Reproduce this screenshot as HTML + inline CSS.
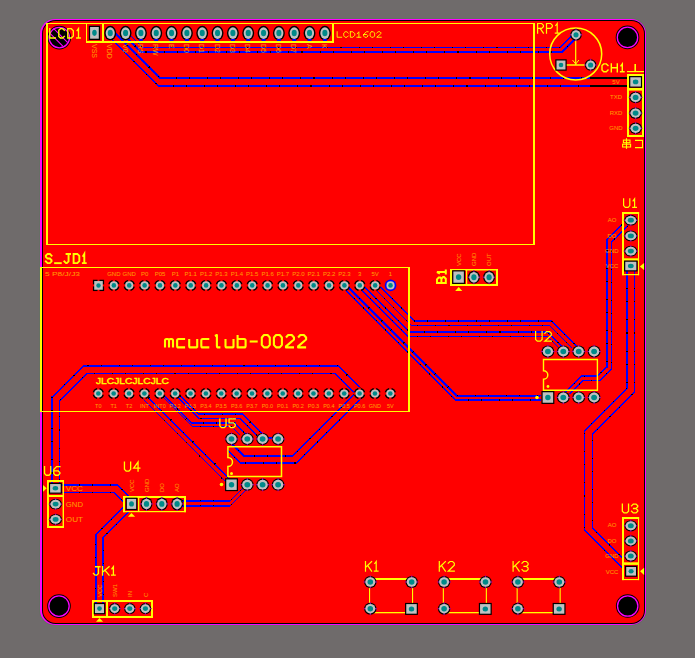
<!DOCTYPE html>
<html><head><meta charset="utf-8"><style>
html,body{margin:0;padding:0;background:#6f6b6b;}
svg{display:block;}
</style></head><body>
<svg width="695" height="658" viewBox="0 0 695 658">
<rect width="695" height="658" fill="#6f6b6b"/>
<rect x="39" y="18" width="608" height="608" rx="16" fill="#667064"/>
<rect x="40" y="19" width="606" height="606" rx="15" fill="#ff00ff"/>
<rect x="42" y="20" width="603" height="604" rx="13.5" fill="#000"/>
<rect x="43" y="21" width="601" height="602" rx="12.5" fill="#ff0000"/>
<line x1="114.0" y1="32.0" x2="160.0" y2="78.0" stroke="#0000ff" stroke-width="1.44" stroke-linecap="round" shape-rendering="crispEdges"/>
<line x1="160.0" y1="78.0" x2="590.0" y2="78.0" stroke="#0000ff" stroke-width="2.00" stroke-linecap="round" shape-rendering="crispEdges"/>
<line x1="111.5" y1="39.0" x2="158.5" y2="86.0" stroke="#0000ff" stroke-width="1.44" stroke-linecap="round" shape-rendering="crispEdges"/>
<line x1="158.5" y1="86.0" x2="590.0" y2="86.0" stroke="#0000ff" stroke-width="2.00" stroke-linecap="round" shape-rendering="crispEdges"/>
<line x1="128.0" y1="33.0" x2="142.5" y2="47.5" stroke="#0000ff" stroke-width="1.15" stroke-linecap="round" shape-rendering="crispEdges"/>
<line x1="142.5" y1="47.5" x2="560.0" y2="47.5" stroke="#0000ff" stroke-width="1.20" stroke-linecap="round" shape-rendering="crispEdges"/>
<line x1="560.0" y1="47.5" x2="572.0" y2="35.5" stroke="#0000ff" stroke-width="1.15" stroke-linecap="round" shape-rendering="crispEdges"/>
<line x1="122.0" y1="33.0" x2="141.0" y2="52.0" stroke="#0000ff" stroke-width="1.44" stroke-linecap="round" shape-rendering="crispEdges"/>
<line x1="141.0" y1="52.0" x2="562.0" y2="52.0" stroke="#0000ff" stroke-width="2.00" stroke-linecap="round" shape-rendering="crispEdges"/>
<line x1="562.0" y1="52.0" x2="575.0" y2="39.0" stroke="#0000ff" stroke-width="1.44" stroke-linecap="round" shape-rendering="crispEdges"/>
<line x1="379.0" y1="285.4" x2="414.6" y2="321.0" stroke="#0000ff" stroke-width="1.44" stroke-linecap="round" shape-rendering="crispEdges"/>
<line x1="414.6" y1="321.0" x2="551.3" y2="321.0" stroke="#0000ff" stroke-width="2.00" stroke-linecap="round" shape-rendering="crispEdges"/>
<line x1="551.3" y1="321.0" x2="577.0" y2="346.7" stroke="#0000ff" stroke-width="1.44" stroke-linecap="round" shape-rendering="crispEdges"/>
<line x1="371.3" y1="285.4" x2="411.2" y2="325.3" stroke="#0000ff" stroke-width="1.15" stroke-linecap="round" shape-rendering="crispEdges"/>
<line x1="411.2" y1="325.3" x2="549.2" y2="325.3" stroke="#0000ff" stroke-width="1.20" stroke-linecap="round" shape-rendering="crispEdges"/>
<line x1="549.2" y1="325.3" x2="572.0" y2="348.1" stroke="#0000ff" stroke-width="1.15" stroke-linecap="round" shape-rendering="crispEdges"/>
<line x1="362.8" y1="285.4" x2="409.4" y2="332.0" stroke="#0000ff" stroke-width="1.44" stroke-linecap="round" shape-rendering="crispEdges"/>
<line x1="409.4" y1="332.0" x2="547.6" y2="332.0" stroke="#0000ff" stroke-width="2.00" stroke-linecap="round" shape-rendering="crispEdges"/>
<line x1="547.6" y1="332.0" x2="561.0" y2="345.4" stroke="#0000ff" stroke-width="1.44" stroke-linecap="round" shape-rendering="crispEdges"/>
<line x1="357.0" y1="285.4" x2="407.8" y2="336.2" stroke="#0000ff" stroke-width="1.15" stroke-linecap="round" shape-rendering="crispEdges"/>
<line x1="407.8" y1="336.2" x2="547.2" y2="336.2" stroke="#0000ff" stroke-width="1.20" stroke-linecap="round" shape-rendering="crispEdges"/>
<line x1="547.2" y1="336.2" x2="558.0" y2="347.0" stroke="#0000ff" stroke-width="1.15" stroke-linecap="round" shape-rendering="crispEdges"/>
<line x1="346.4" y1="285.4" x2="456.6" y2="395.6" stroke="#0000ff" stroke-width="1.44" stroke-linecap="round" shape-rendering="crispEdges"/>
<line x1="456.6" y1="395.6" x2="540.0" y2="395.6" stroke="#0000ff" stroke-width="2.00" stroke-linecap="round" shape-rendering="crispEdges"/>
<line x1="341.0" y1="285.4" x2="455.6" y2="400.0" stroke="#0000ff" stroke-width="1.44" stroke-linecap="round" shape-rendering="crispEdges"/>
<line x1="455.6" y1="400.0" x2="540.0" y2="400.0" stroke="#0000ff" stroke-width="2.00" stroke-linecap="round" shape-rendering="crispEdges"/>
<line x1="360.1" y1="388.0" x2="337.7" y2="365.6" stroke="#0000ff" stroke-width="1.44" stroke-linecap="round" shape-rendering="crispEdges"/>
<line x1="337.7" y1="365.6" x2="83.6" y2="365.6" stroke="#0000ff" stroke-width="2.00" stroke-linecap="round" shape-rendering="crispEdges"/>
<line x1="83.6" y1="365.6" x2="52.0" y2="397.2" stroke="#0000ff" stroke-width="1.44" stroke-linecap="round" shape-rendering="crispEdges"/>
<line x1="52.0" y1="397.2" x2="52.0" y2="484.0" stroke="#0000ff" stroke-width="2.00" stroke-linecap="round" shape-rendering="crispEdges"/>
<line x1="354.8" y1="393.0" x2="335.5" y2="373.7" stroke="#0000ff" stroke-width="1.15" stroke-linecap="round" shape-rendering="crispEdges"/>
<line x1="335.5" y1="373.7" x2="86.5" y2="373.7" stroke="#0000ff" stroke-width="1.20" stroke-linecap="round" shape-rendering="crispEdges"/>
<line x1="86.5" y1="373.7" x2="59.5" y2="400.7" stroke="#0000ff" stroke-width="1.15" stroke-linecap="round" shape-rendering="crispEdges"/>
<line x1="59.5" y1="400.7" x2="59.5" y2="484.0" stroke="#0000ff" stroke-width="1.20" stroke-linecap="round" shape-rendering="crispEdges"/>
<line x1="354.5" y1="394.0" x2="292.8" y2="455.7" stroke="#0000ff" stroke-width="1.44" stroke-linecap="round" shape-rendering="crispEdges"/>
<line x1="292.8" y1="455.7" x2="243.7" y2="455.7" stroke="#0000ff" stroke-width="2.00" stroke-linecap="round" shape-rendering="crispEdges"/>
<line x1="243.7" y1="455.7" x2="232.0" y2="444.0" stroke="#0000ff" stroke-width="1.44" stroke-linecap="round" shape-rendering="crispEdges"/>
<line x1="362.0" y1="397.5" x2="296.5" y2="463.0" stroke="#0000ff" stroke-width="1.15" stroke-linecap="round" shape-rendering="crispEdges"/>
<line x1="296.5" y1="463.0" x2="240.7" y2="463.0" stroke="#0000ff" stroke-width="1.50" stroke-linecap="round" shape-rendering="crispEdges"/>
<line x1="240.7" y1="463.0" x2="227.8" y2="450.1" stroke="#0000ff" stroke-width="1.15" stroke-linecap="round" shape-rendering="crispEdges"/>
<line x1="142.3" y1="398.4" x2="228.0" y2="484.1" stroke="#0000ff" stroke-width="1.15" stroke-linecap="round" shape-rendering="crispEdges"/>
<line x1="148.2" y1="397.3" x2="233.0" y2="482.1" stroke="#0000ff" stroke-width="1.44" stroke-linecap="round" shape-rendering="crispEdges"/>
<line x1="164.4" y1="395.7" x2="191.6" y2="422.9" stroke="#0000ff" stroke-width="1.30" stroke-linecap="round" shape-rendering="crispEdges"/>
<line x1="191.6" y1="422.9" x2="234.8" y2="422.9" stroke="#0000ff" stroke-width="1.80" stroke-linecap="round" shape-rendering="crispEdges"/>
<line x1="234.8" y1="422.9" x2="246.0" y2="434.1" stroke="#0000ff" stroke-width="1.30" stroke-linecap="round" shape-rendering="crispEdges"/>
<line x1="162.8" y1="396.8" x2="192.5" y2="426.5" stroke="#0000ff" stroke-width="1.15" stroke-linecap="round" shape-rendering="crispEdges"/>
<line x1="192.5" y1="426.5" x2="231.5" y2="426.5" stroke="#0000ff" stroke-width="1.60" stroke-linecap="round" shape-rendering="crispEdges"/>
<line x1="231.5" y1="426.5" x2="240.0" y2="435.0" stroke="#0000ff" stroke-width="1.15" stroke-linecap="round" shape-rendering="crispEdges"/>
<line x1="180.1" y1="395.7" x2="198.7" y2="414.3" stroke="#0000ff" stroke-width="1.44" stroke-linecap="round" shape-rendering="crispEdges"/>
<line x1="198.7" y1="414.3" x2="242.4" y2="414.3" stroke="#0000ff" stroke-width="2.00" stroke-linecap="round" shape-rendering="crispEdges"/>
<line x1="242.4" y1="414.3" x2="261.0" y2="432.9" stroke="#0000ff" stroke-width="1.44" stroke-linecap="round" shape-rendering="crispEdges"/>
<line x1="177.9" y1="397.3" x2="199.0" y2="418.4" stroke="#0000ff" stroke-width="1.15" stroke-linecap="round" shape-rendering="crispEdges"/>
<line x1="199.0" y1="418.4" x2="240.1" y2="418.4" stroke="#0000ff" stroke-width="1.60" stroke-linecap="round" shape-rendering="crispEdges"/>
<line x1="240.1" y1="418.4" x2="257.0" y2="435.3" stroke="#0000ff" stroke-width="1.15" stroke-linecap="round" shape-rendering="crispEdges"/>
<line x1="263.0" y1="438.4" x2="278.4" y2="438.4" stroke="#0000ff" stroke-width="2.00" stroke-linecap="round" shape-rendering="crispEdges"/>
<line x1="61.0" y1="485.0" x2="117.5" y2="485.0" stroke="#0000ff" stroke-width="2.00" stroke-linecap="round" shape-rendering="crispEdges"/>
<line x1="117.5" y1="485.0" x2="128.5" y2="496.0" stroke="#0000ff" stroke-width="1.44" stroke-linecap="round" shape-rendering="crispEdges"/>
<line x1="61.0" y1="492.5" x2="114.1" y2="492.5" stroke="#0000ff" stroke-width="1.20" stroke-linecap="round" shape-rendering="crispEdges"/>
<line x1="114.1" y1="492.5" x2="124.5" y2="502.9" stroke="#0000ff" stroke-width="1.15" stroke-linecap="round" shape-rendering="crispEdges"/>
<line x1="124.5" y1="506.0" x2="95.8" y2="534.7" stroke="#0000ff" stroke-width="1.15" stroke-linecap="round" shape-rendering="crispEdges"/>
<line x1="95.8" y1="534.7" x2="95.8" y2="604.0" stroke="#0000ff" stroke-width="1.50" stroke-linecap="round" shape-rendering="crispEdges"/>
<line x1="129.5" y1="511.3" x2="103.2" y2="537.6" stroke="#0000ff" stroke-width="1.15" stroke-linecap="round" shape-rendering="crispEdges"/>
<line x1="103.2" y1="537.6" x2="103.2" y2="604.0" stroke="#0000ff" stroke-width="1.60" stroke-linecap="round" shape-rendering="crispEdges"/>
<line x1="182.0" y1="500.8" x2="230.2" y2="500.8" stroke="#0000ff" stroke-width="1.60" stroke-linecap="round" shape-rendering="crispEdges"/>
<line x1="230.2" y1="500.8" x2="243.0" y2="488.0" stroke="#0000ff" stroke-width="1.15" stroke-linecap="round" shape-rendering="crispEdges"/>
<line x1="182.0" y1="505.8" x2="230.2" y2="505.8" stroke="#0000ff" stroke-width="1.60" stroke-linecap="round" shape-rendering="crispEdges"/>
<line x1="230.2" y1="505.8" x2="247.0" y2="489.0" stroke="#0000ff" stroke-width="1.15" stroke-linecap="round" shape-rendering="crispEdges"/>
<line x1="622.0" y1="224.7" x2="607.0" y2="239.7" stroke="#0000ff" stroke-width="1.44" stroke-linecap="round" shape-rendering="crispEdges"/>
<line x1="607.0" y1="239.7" x2="607.0" y2="366.7" stroke="#0000ff" stroke-width="2.00" stroke-linecap="round" shape-rendering="crispEdges"/>
<line x1="607.0" y1="366.7" x2="597.3" y2="376.4" stroke="#0000ff" stroke-width="1.44" stroke-linecap="round" shape-rendering="crispEdges"/>
<line x1="597.3" y1="376.4" x2="581.5" y2="376.4" stroke="#0000ff" stroke-width="2.00" stroke-linecap="round" shape-rendering="crispEdges"/>
<line x1="581.5" y1="376.4" x2="563.5" y2="394.4" stroke="#0000ff" stroke-width="1.44" stroke-linecap="round" shape-rendering="crispEdges"/>
<line x1="627.8" y1="226.0" x2="611.6" y2="242.2" stroke="#0000ff" stroke-width="1.15" stroke-linecap="round" shape-rendering="crispEdges"/>
<line x1="611.6" y1="242.2" x2="611.6" y2="369.0" stroke="#0000ff" stroke-width="1.50" stroke-linecap="round" shape-rendering="crispEdges"/>
<line x1="611.6" y1="369.0" x2="599.9" y2="380.7" stroke="#0000ff" stroke-width="1.15" stroke-linecap="round" shape-rendering="crispEdges"/>
<line x1="599.9" y1="380.7" x2="583.0" y2="380.7" stroke="#0000ff" stroke-width="1.50" stroke-linecap="round" shape-rendering="crispEdges"/>
<line x1="583.0" y1="380.7" x2="570.0" y2="393.7" stroke="#0000ff" stroke-width="1.15" stroke-linecap="round" shape-rendering="crispEdges"/>
<line x1="627.0" y1="270.0" x2="627.0" y2="388.2" stroke="#0000ff" stroke-width="2.00" stroke-linecap="round" shape-rendering="crispEdges"/>
<line x1="627.0" y1="388.2" x2="584.7" y2="430.5" stroke="#0000ff" stroke-width="1.15" stroke-linecap="round" shape-rendering="crispEdges"/>
<line x1="584.7" y1="430.5" x2="584.7" y2="530.4" stroke="#0000ff" stroke-width="1.20" stroke-linecap="round" shape-rendering="crispEdges"/>
<line x1="584.7" y1="530.4" x2="622.8" y2="568.5" stroke="#0000ff" stroke-width="1.15" stroke-linecap="round" shape-rendering="crispEdges"/>
<line x1="634.4" y1="270.0" x2="634.4" y2="391.8" stroke="#0000ff" stroke-width="1.50" stroke-linecap="round" shape-rendering="crispEdges"/>
<line x1="634.4" y1="391.8" x2="592.5" y2="433.7" stroke="#0000ff" stroke-width="1.15" stroke-linecap="round" shape-rendering="crispEdges"/>
<line x1="592.5" y1="433.7" x2="592.5" y2="527.9" stroke="#0000ff" stroke-width="1.50" stroke-linecap="round" shape-rendering="crispEdges"/>
<line x1="592.5" y1="527.9" x2="622.8" y2="558.2" stroke="#0000ff" stroke-width="1.15" stroke-linecap="round" shape-rendering="crispEdges"/>
<path d="M114.0,32.0 L160.0,78.0 L590.0,78.0" fill="none" stroke="#000" stroke-width="1.60" stroke-dasharray="1.2 17 1 12" shape-rendering="crispEdges"/>
<path d="M111.5,39.0 L158.5,86.0 L590.0,86.0" fill="none" stroke="#000" stroke-width="1.60" stroke-dasharray="1.2 17 1 12" shape-rendering="crispEdges"/>
<path d="M128.0,33.0 L142.5,47.5 L560.0,47.5 L572.0,35.5" fill="none" stroke="#000" stroke-width="0.96" stroke-dasharray="1.2 17 1 12" shape-rendering="crispEdges"/>
<path d="M122.0,33.0 L141.0,52.0 L562.0,52.0 L575.0,39.0" fill="none" stroke="#000" stroke-width="1.60" stroke-dasharray="1.2 17 1 12" shape-rendering="crispEdges"/>
<path d="M379.0,285.4 L414.6,321.0 L551.3,321.0 L577.0,346.7" fill="none" stroke="#000" stroke-width="1.60" stroke-dasharray="1.2 17 1 12" shape-rendering="crispEdges"/>
<path d="M371.3,285.4 L411.2,325.3 L549.2,325.3 L572.0,348.1" fill="none" stroke="#000" stroke-width="0.96" stroke-dasharray="1.2 17 1 12" shape-rendering="crispEdges"/>
<path d="M362.8,285.4 L409.4,332.0 L547.6,332.0 L561.0,345.4" fill="none" stroke="#000" stroke-width="1.60" stroke-dasharray="1.2 17 1 12" shape-rendering="crispEdges"/>
<path d="M357.0,285.4 L407.8,336.2 L547.2,336.2 L558.0,347.0" fill="none" stroke="#000" stroke-width="0.96" stroke-dasharray="1.2 17 1 12" shape-rendering="crispEdges"/>
<path d="M346.4,285.4 L456.6,395.6 L540.0,395.6" fill="none" stroke="#000" stroke-width="1.60" stroke-dasharray="1.2 17 1 12" shape-rendering="crispEdges"/>
<path d="M341.0,285.4 L455.6,400.0 L540.0,400.0" fill="none" stroke="#000" stroke-width="1.60" stroke-dasharray="1.2 17 1 12" shape-rendering="crispEdges"/>
<path d="M360.1,388.0 L337.7,365.6 L83.6,365.6 L52.0,397.2 L52.0,484.0" fill="none" stroke="#000" stroke-width="1.60" stroke-dasharray="1.2 17 1 12" shape-rendering="crispEdges"/>
<path d="M354.8,393.0 L335.5,373.7 L86.5,373.7 L59.5,400.7 L59.5,484.0" fill="none" stroke="#000" stroke-width="0.96" stroke-dasharray="1.2 17 1 12" shape-rendering="crispEdges"/>
<path d="M354.5,394.0 L292.8,455.7 L243.7,455.7 L232.0,444.0" fill="none" stroke="#000" stroke-width="1.60" stroke-dasharray="1.2 17 1 12" shape-rendering="crispEdges"/>
<path d="M362.0,397.5 L296.5,463.0 L240.7,463.0 L227.8,450.1" fill="none" stroke="#000" stroke-width="1.20" stroke-dasharray="1.2 17 1 12" shape-rendering="crispEdges"/>
<path d="M142.3,398.4 L228.0,484.1" fill="none" stroke="#000" stroke-width="1.28" stroke-dasharray="1.2 17 1 12" shape-rendering="crispEdges"/>
<path d="M148.2,397.3 L233.0,482.1" fill="none" stroke="#000" stroke-width="1.60" stroke-dasharray="1.2 17 1 12" shape-rendering="crispEdges"/>
<path d="M164.4,395.7 L191.6,422.9 L234.8,422.9 L246.0,434.1" fill="none" stroke="#000" stroke-width="1.44" stroke-dasharray="1.2 17 1 12" shape-rendering="crispEdges"/>
<path d="M162.8,396.8 L192.5,426.5 L231.5,426.5 L240.0,435.0" fill="none" stroke="#000" stroke-width="1.28" stroke-dasharray="1.2 17 1 12" shape-rendering="crispEdges"/>
<path d="M180.1,395.7 L198.7,414.3 L242.4,414.3 L261.0,432.9" fill="none" stroke="#000" stroke-width="1.60" stroke-dasharray="1.2 17 1 12" shape-rendering="crispEdges"/>
<path d="M177.9,397.3 L199.0,418.4 L240.1,418.4 L257.0,435.3" fill="none" stroke="#000" stroke-width="1.28" stroke-dasharray="1.2 17 1 12" shape-rendering="crispEdges"/>
<path d="M263.0,438.4 L278.4,438.4" fill="none" stroke="#000" stroke-width="1.60" stroke-dasharray="1.2 17 1 12" shape-rendering="crispEdges"/>
<path d="M61.0,485.0 L117.5,485.0 L128.5,496.0" fill="none" stroke="#000" stroke-width="1.60" stroke-dasharray="1.2 17 1 12" shape-rendering="crispEdges"/>
<path d="M61.0,492.5 L114.1,492.5 L124.5,502.9" fill="none" stroke="#000" stroke-width="0.96" stroke-dasharray="1.2 17 1 12" shape-rendering="crispEdges"/>
<path d="M124.5,506.0 L95.8,534.7 L95.8,604.0" fill="none" stroke="#000" stroke-width="1.20" stroke-dasharray="1.2 17 1 12" shape-rendering="crispEdges"/>
<path d="M129.5,511.3 L103.2,537.6 L103.2,604.0" fill="none" stroke="#000" stroke-width="1.28" stroke-dasharray="1.2 17 1 12" shape-rendering="crispEdges"/>
<path d="M182.0,500.8 L230.2,500.8 L243.0,488.0" fill="none" stroke="#000" stroke-width="1.28" stroke-dasharray="1.2 17 1 12" shape-rendering="crispEdges"/>
<path d="M182.0,505.8 L230.2,505.8 L247.0,489.0" fill="none" stroke="#000" stroke-width="1.28" stroke-dasharray="1.2 17 1 12" shape-rendering="crispEdges"/>
<path d="M622.0,224.7 L607.0,239.7 L607.0,366.7 L597.3,376.4 L581.5,376.4 L563.5,394.4" fill="none" stroke="#000" stroke-width="1.60" stroke-dasharray="1.2 17 1 12" shape-rendering="crispEdges"/>
<path d="M627.8,226.0 L611.6,242.2 L611.6,369.0 L599.9,380.7 L583.0,380.7 L570.0,393.7" fill="none" stroke="#000" stroke-width="1.20" stroke-dasharray="1.2 17 1 12" shape-rendering="crispEdges"/>
<path d="M627.0,270.0 L627.0,388.2" fill="none" stroke="#000" stroke-width="1.60" stroke-dasharray="1.2 17 1 12" shape-rendering="crispEdges"/>
<path d="M627.0,388.2 L584.7,430.5 L584.7,530.4 L622.8,568.5" fill="none" stroke="#000" stroke-width="0.96" stroke-dasharray="1.2 17 1 12" shape-rendering="crispEdges"/>
<path d="M634.4,270.0 L634.4,391.8 L592.5,433.7 L592.5,527.9 L622.8,558.2" fill="none" stroke="#000" stroke-width="1.20" stroke-dasharray="1.2 17 1 12" shape-rendering="crispEdges"/>
<line x1="590" y1="78" x2="630" y2="78" stroke="#000" stroke-width="2"/>
<line x1="590" y1="86" x2="628" y2="86" stroke="#000" stroke-width="2"/>
<circle cx="59.3" cy="37.6" r="11.8" fill="#000"/>
<circle cx="59.3" cy="37.6" r="10.2" fill="none" stroke="#ff00ff" stroke-width="1.3"/>
<circle cx="627.5" cy="37.4" r="11.8" fill="#000"/>
<circle cx="627.5" cy="37.4" r="10.2" fill="none" stroke="#ff00ff" stroke-width="1.3"/>
<circle cx="59" cy="606.1" r="11.8" fill="#000"/>
<circle cx="59" cy="606.1" r="10.2" fill="none" stroke="#ff00ff" stroke-width="1.3"/>
<circle cx="627.7" cy="606" r="11.8" fill="#000"/>
<circle cx="627.7" cy="606" r="10.2" fill="none" stroke="#ff00ff" stroke-width="1.3"/>
<line x1="53.5" y1="28.3" x2="67.5" y2="42.3" stroke="#ff00ff" stroke-width="1.1"/>
<line x1="50.3" y1="33.6" x2="62.8" y2="46.1" stroke="#ff00ff" stroke-width="1.1"/>
<rect x="46" y="23" width="489" height="1" fill="#ffff00"/>
<rect x="46" y="244" width="489" height="1" fill="#ffff00"/>
<rect x="46" y="23" width="2" height="222" fill="#ffff00"/>
<rect x="533" y="23" width="2" height="222" fill="#ffff00"/>
<rect x="86" y="23" width="248" height="1" fill="#ffff00"/>
<rect x="86" y="41" width="248" height="2" fill="#ffff00"/>
<rect x="86" y="23" width="1" height="20" fill="#ffff00"/>
<rect x="332" y="23" width="2" height="20" fill="#ffff00"/>
<rect x="102" y="23" width="2" height="19" fill="#ffff00"/>
<g transform="translate(0,28)" fill="none" stroke="#ff0" stroke-width="1.35" stroke-linejoin="miter" stroke-linecap="square"><path transform="translate(49.10,0)" d="M0.68,0.68L0.68,10.02L6.23,10.02"/><path transform="translate(58.10,0)" d="M6.23,2.33L4.57,0.68L2.33,0.68L0.68,2.33L0.68,8.37L2.33,10.02L4.57,10.02L6.23,8.37"/><path transform="translate(67.10,0)" d="M0.68,0.68L0.68,10.02L4.23,10.02L6.23,8.02L6.23,2.67L4.23,0.68L0.68,0.68"/><path transform="translate(76.10,0)" d="M0.98,2.67L2.40,0.68L2.40,10.02M0.68,10.02L4.12,10.02"/></g>
<g transform="translate(0,31.3)" fill="none" stroke="#ff0" stroke-width="0.9" stroke-linejoin="miter" stroke-linecap="square"><path transform="translate(336.70,0)" d="M0.45,0.45L0.45,5.95L4.95,5.95"/><path transform="translate(343.30,0)" d="M4.95,1.75L3.65,0.45L1.75,0.45L0.45,1.75L0.45,4.65L1.75,5.95L3.65,5.95L4.95,4.65"/><path transform="translate(349.90,0)" d="M0.45,0.45L0.45,5.95L2.95,5.95L4.95,3.95L4.95,2.45L2.95,0.45L0.45,0.45"/><path transform="translate(356.50,0)" d="M0.75,2.45L2.40,0.45L2.40,5.95M0.45,5.95L4.35,5.95"/><path transform="translate(363.10,0)" d="M4.95,0.45L3.25,0.45L0.45,3.25L0.45,4.65L1.75,5.95L3.65,5.95L4.95,4.65L4.95,4.50L3.65,3.20L0.45,3.20"/><path transform="translate(369.70,0)" d="M1.75,0.45L3.65,0.45L4.95,1.75L4.95,4.65L3.65,5.95L1.75,5.95L0.45,4.65L0.45,1.75L1.75,0.45"/><path transform="translate(376.30,0)" d="M0.45,1.75L1.75,0.45L3.65,0.45L4.95,1.75L4.95,2.00L0.45,5.95L4.95,5.95"/></g>
<text x="92.0" y="44" font-family="Liberation Sans" font-size="7" font-weight="normal" fill="#ffff00" text-anchor="start" transform="rotate(90 92.0 44)" opacity="0.6">VSS</text>
<text x="107.33" y="44" font-family="Liberation Sans" font-size="7" font-weight="normal" fill="#ffff00" text-anchor="start" transform="rotate(90 107.33 44)" opacity="0.6">VDD</text>
<text x="122.66" y="44" font-family="Liberation Sans" font-size="7" font-weight="normal" fill="#ffff00" text-anchor="start" transform="rotate(90 122.66 44)" opacity="0.6">V0</text>
<text x="137.99" y="44" font-family="Liberation Sans" font-size="7" font-weight="normal" fill="#ffff00" text-anchor="start" transform="rotate(90 137.99 44)" opacity="0.6">RS</text>
<text x="153.32" y="44" font-family="Liberation Sans" font-size="7" font-weight="normal" fill="#ffff00" text-anchor="start" transform="rotate(90 153.32 44)" opacity="0.6">RW</text>
<text x="168.65" y="44" font-family="Liberation Sans" font-size="7" font-weight="normal" fill="#ffff00" text-anchor="start" transform="rotate(90 168.65 44)" opacity="0.6">E</text>
<text x="183.98000000000002" y="44" font-family="Liberation Sans" font-size="7" font-weight="normal" fill="#ffff00" text-anchor="start" transform="rotate(90 183.98000000000002 44)" opacity="0.6">D0</text>
<text x="199.31" y="44" font-family="Liberation Sans" font-size="7" font-weight="normal" fill="#ffff00" text-anchor="start" transform="rotate(90 199.31 44)" opacity="0.6">D1</text>
<text x="214.64" y="44" font-family="Liberation Sans" font-size="7" font-weight="normal" fill="#ffff00" text-anchor="start" transform="rotate(90 214.64 44)" opacity="0.6">D2</text>
<text x="229.97" y="44" font-family="Liberation Sans" font-size="7" font-weight="normal" fill="#ffff00" text-anchor="start" transform="rotate(90 229.97 44)" opacity="0.6">D3</text>
<text x="245.3" y="44" font-family="Liberation Sans" font-size="7" font-weight="normal" fill="#ffff00" text-anchor="start" transform="rotate(90 245.3 44)" opacity="0.6">D4</text>
<text x="260.63" y="44" font-family="Liberation Sans" font-size="7" font-weight="normal" fill="#ffff00" text-anchor="start" transform="rotate(90 260.63 44)" opacity="0.6">D5</text>
<text x="275.96000000000004" y="44" font-family="Liberation Sans" font-size="7" font-weight="normal" fill="#ffff00" text-anchor="start" transform="rotate(90 275.96000000000004 44)" opacity="0.6">D6</text>
<text x="291.28999999999996" y="44" font-family="Liberation Sans" font-size="7" font-weight="normal" fill="#ffff00" text-anchor="start" transform="rotate(90 291.28999999999996 44)" opacity="0.6">D7</text>
<text x="306.62" y="44" font-family="Liberation Sans" font-size="7" font-weight="normal" fill="#ffff00" text-anchor="start" transform="rotate(90 306.62 44)" opacity="0.6">A</text>
<text x="321.95" y="44" font-family="Liberation Sans" font-size="7" font-weight="normal" fill="#ffff00" text-anchor="start" transform="rotate(90 321.95 44)" opacity="0.6">K</text>
<circle cx="575.7" cy="54" r="26" fill="none" stroke="#ffff00" stroke-width="1.5"/>
<line x1="575.7" y1="38" x2="575.7" y2="65" stroke="#ffff00" stroke-width="1.2"/>
<line x1="561" y1="65" x2="590.6" y2="65" stroke="#ffff00" stroke-width="1.5"/>
<path d="M572.5,60 L575.7,64 L578.9,60" fill="none" stroke="#ffff00" stroke-width="1"/>
<g transform="translate(0,22.9)" fill="none" stroke="#ff0" stroke-width="1.2" stroke-linejoin="miter" stroke-linecap="square"><path transform="translate(537.00,0)" d="M0.60,10.30L0.60,0.60L4.72,0.60L6.40,2.28L6.40,3.77L4.72,5.45L0.60,5.45M3.10,5.45L6.40,10.30"/><path transform="translate(545.90,0)" d="M0.60,10.30L0.60,0.60L4.72,0.60L6.40,2.28L6.40,3.77L4.72,5.45L0.60,5.45"/><path transform="translate(554.80,0)" d="M0.90,2.60L2.40,0.60L2.40,10.30M0.60,10.30L4.20,10.30"/></g>
<g transform="translate(0,63.2)" fill="none" stroke="#ff0" stroke-width="1.4" stroke-linejoin="miter" stroke-linecap="square"><path transform="translate(601.30,0)" d="M6.70,2.40L5.00,0.70L2.40,0.70L0.70,2.40L0.70,6.80L2.40,8.50L5.00,8.50L6.70,6.80"/><path transform="translate(610.60,0)" d="M0.70,0.70L0.70,8.50M6.70,0.70L6.70,8.50M0.70,4.60L6.70,4.60"/><path transform="translate(619.90,0)" d="M1.00,2.70L2.40,0.70L2.40,8.50M0.70,8.50L4.10,8.50"/></g>
<rect x="627" y="71" width="17" height="1.2" fill="#ffff00"/>
<rect x="634.4" y="64" width="1.6" height="7.5" fill="#ffff00"/>
<rect x="627" y="74" width="17" height="2" fill="#ffff00"/>
<rect x="627" y="135" width="17" height="2" fill="#ffff00"/>
<rect x="627" y="74" width="2" height="63" fill="#ffff00"/>
<rect x="642" y="74" width="2" height="63" fill="#ffff00"/>
<rect x="627" y="88" width="17" height="2.6" fill="#ffff00"/>
<text x="616" y="83.6" font-family="Liberation Sans" font-size="6" font-weight="normal" fill="#ffff00" text-anchor="middle" opacity="0.6">5V</text>
<text x="616" y="99.2" font-family="Liberation Sans" font-size="6" font-weight="normal" fill="#ffff00" text-anchor="middle" opacity="0.6">TXD</text>
<text x="616" y="114.7" font-family="Liberation Sans" font-size="6" font-weight="normal" fill="#ffff00" text-anchor="middle" opacity="0.6">RXD</text>
<text x="616" y="130" font-family="Liberation Sans" font-size="6" font-weight="normal" fill="#ffff00" text-anchor="middle" opacity="0.6">GND</text>
<g fill="none" stroke="#ffff00" stroke-width="1.1"><rect x="623.4" y="140.1" width="6.6" height="2.6"/><rect x="622.6" y="144.2" width="8" height="2.8"/><line x1="626.5" y1="138.2" x2="626.5" y2="148.9"/><path d="M635,140.4 H642.5 V148.2 M635,147.6 H642.5"/></g>
<rect x="40" y="267" width="370" height="1" fill="#ffff00"/>
<rect x="40" y="411" width="370" height="1" fill="#ffff00"/>
<rect x="40" y="267" width="2" height="145" fill="#ffff00"/>
<rect x="408" y="267" width="2" height="145" fill="#ffff00"/>
<rect x="40" y="267" width="2" height="145" fill="#ffff00"/>
<g transform="translate(0,253)" fill="none" stroke="#ff0" stroke-width="1.9" stroke-linejoin="miter" stroke-linecap="square"><path transform="translate(44.90,0)" d="M6.65,2.65L4.95,0.95L2.65,0.95L0.95,2.65L0.95,3.85L2.65,5.55L4.95,5.55L6.65,7.25L6.65,8.45L4.95,10.15L2.65,10.15L0.95,8.45"/><path transform="translate(54.15,0)" d="M0.95,10.15L6.65,10.15"/><path transform="translate(63.40,0)" d="M3.15,0.95L6.65,0.95M5.15,0.95L5.15,8.45L3.45,10.15L2.65,10.15L0.95,8.45"/><path transform="translate(72.65,0)" d="M0.95,0.95L0.95,10.15L4.65,10.15L6.65,8.15L6.65,2.95L4.65,0.95L0.95,0.95"/><path transform="translate(81.90,0)" d="M1.25,2.95L2.40,0.95L2.40,10.15M0.95,10.15L3.85,10.15"/></g>
<g fill="none" stroke="#ffff00" stroke-width="2.1" stroke-linejoin="round"><path transform="translate(164.00,334)" d="M1,13.4 V6.5 Q1,5.0 2.5,5.0 H3.5 Q5,5.0 5,6.5 V13.4 M5,6.5 Q5,5.0 6.5,5.0 H7.5 Q9,5.0 9,6.5 V13.4"/><path transform="translate(176.10,334)" d="M9,5.0 H2.5 Q1,5.0 1,6.5 V11.9 Q1,13.4 2.5,13.4 H9"/><path transform="translate(188.20,334)" d="M1,5.0 V11.9 Q1,13.4 2.5,13.4 H7.5 Q9,13.4 9,11.9 M9,5.0 V13.4"/><path transform="translate(200.30,334)" d="M9,5.0 H2.5 Q1,5.0 1,6.5 V11.9 Q1,13.4 2.5,13.4 H9"/><path transform="translate(212.40,334)" d="M2.5,2.0 L4.5,1.0 V11.9 Q4.5,13.4 6,13.4 H8"/><path transform="translate(224.50,334)" d="M1,5.0 V11.9 Q1,13.4 2.5,13.4 H7.5 Q9,13.4 9,11.9 M9,5.0 V13.4"/><path transform="translate(236.60,334)" d="M1,1.0 V13.4 H7.5 Q9,13.4 9,11.9 V6.5 Q9,5.0 7.5,5.0 H1"/><path transform="translate(248.70,334)" d="M1,7.5 H9"/><path transform="translate(260.80,334)" d="M3.2,1.0 H6.8 L9,3.5 V10.9 L6.8,13.4 H3.2 L1,10.9 V3.5 Z"/><path transform="translate(272.90,334)" d="M3.2,1.0 H6.8 L9,3.5 V10.9 L6.8,13.4 H3.2 L1,10.9 V3.5 Z"/><path transform="translate(285.00,334)" d="M1,3.5 L3.2,1.0 H6.8 L9,3.5 V5.5 L1,12.4 V13.4 H9"/><path transform="translate(297.10,334)" d="M1,3.5 L3.2,1.0 H6.8 L9,3.5 V5.5 L1,12.4 V13.4 H9"/></g>
<text x="95.9" y="383.7" font-family="Liberation Sans" font-size="9.4" font-weight="normal" fill="#ffff00" text-anchor="start" textLength="73" lengthAdjust="spacingAndGlyphs" stroke="#ff0" stroke-width="0.35">JLCJLCJLCJLC</text>
<text x="113.87" y="276.2" font-family="Liberation Sans" font-size="6" font-weight="normal" fill="#ffff00" text-anchor="middle" opacity="0.6">GND</text>
<text x="129.24" y="276.2" font-family="Liberation Sans" font-size="6" font-weight="normal" fill="#ffff00" text-anchor="middle" opacity="0.6">GND</text>
<text x="144.61" y="276.2" font-family="Liberation Sans" font-size="6" font-weight="normal" fill="#ffff00" text-anchor="middle" opacity="0.6">P0</text>
<text x="159.98" y="276.2" font-family="Liberation Sans" font-size="6" font-weight="normal" fill="#ffff00" text-anchor="middle" opacity="0.6">P05</text>
<text x="175.35" y="276.2" font-family="Liberation Sans" font-size="6" font-weight="normal" fill="#ffff00" text-anchor="middle" opacity="0.6">P1</text>
<text x="190.72" y="276.2" font-family="Liberation Sans" font-size="6" font-weight="normal" fill="#ffff00" text-anchor="middle" opacity="0.6">P1.1</text>
<text x="206.08999999999997" y="276.2" font-family="Liberation Sans" font-size="6" font-weight="normal" fill="#ffff00" text-anchor="middle" opacity="0.6">P1.2</text>
<text x="221.45999999999998" y="276.2" font-family="Liberation Sans" font-size="6" font-weight="normal" fill="#ffff00" text-anchor="middle" opacity="0.6">P1.3</text>
<text x="236.82999999999998" y="276.2" font-family="Liberation Sans" font-size="6" font-weight="normal" fill="#ffff00" text-anchor="middle" opacity="0.6">P1.4</text>
<text x="252.2" y="276.2" font-family="Liberation Sans" font-size="6" font-weight="normal" fill="#ffff00" text-anchor="middle" opacity="0.6">P1.5</text>
<text x="267.57" y="276.2" font-family="Liberation Sans" font-size="6" font-weight="normal" fill="#ffff00" text-anchor="middle" opacity="0.6">P1.6</text>
<text x="282.94" y="276.2" font-family="Liberation Sans" font-size="6" font-weight="normal" fill="#ffff00" text-anchor="middle" opacity="0.6">P1.7</text>
<text x="298.31" y="276.2" font-family="Liberation Sans" font-size="6" font-weight="normal" fill="#ffff00" text-anchor="middle" opacity="0.6">P2.0</text>
<text x="313.67999999999995" y="276.2" font-family="Liberation Sans" font-size="6" font-weight="normal" fill="#ffff00" text-anchor="middle" opacity="0.6">P2.1</text>
<text x="329.04999999999995" y="276.2" font-family="Liberation Sans" font-size="6" font-weight="normal" fill="#ffff00" text-anchor="middle" opacity="0.6">P2.2</text>
<text x="344.41999999999996" y="276.2" font-family="Liberation Sans" font-size="6" font-weight="normal" fill="#ffff00" text-anchor="middle" opacity="0.6">P2.3</text>
<text x="359.78999999999996" y="276.2" font-family="Liberation Sans" font-size="6" font-weight="normal" fill="#ffff00" text-anchor="middle" opacity="0.6">3</text>
<text x="375.15999999999997" y="276.2" font-family="Liberation Sans" font-size="6" font-weight="normal" fill="#ffff00" text-anchor="middle" opacity="0.6">5V</text>
<text x="390.53" y="276.2" font-family="Liberation Sans" font-size="6" font-weight="normal" fill="#ffff00" text-anchor="middle" opacity="0.6">1</text>
<text x="45" y="276.2" font-family="Liberation Sans" font-size="6" font-weight="normal" fill="#ffff00" text-anchor="start" textLength="35" lengthAdjust="spacingAndGlyphs" opacity="0.6">5 P8/J/J3</text>
<text x="98.3" y="407.8" font-family="Liberation Sans" font-size="5.5" font-weight="normal" fill="#ffff00" text-anchor="middle" opacity="0.6">T0</text>
<text x="113.67" y="407.8" font-family="Liberation Sans" font-size="5.5" font-weight="normal" fill="#ffff00" text-anchor="middle" opacity="0.6">T1</text>
<text x="129.04" y="407.8" font-family="Liberation Sans" font-size="5.5" font-weight="normal" fill="#ffff00" text-anchor="middle" opacity="0.6">T2</text>
<text x="144.41" y="407.8" font-family="Liberation Sans" font-size="5.5" font-weight="normal" fill="#ffff00" text-anchor="middle" opacity="0.6">INT</text>
<text x="159.78" y="407.8" font-family="Liberation Sans" font-size="5.5" font-weight="normal" fill="#ffff00" text-anchor="middle" opacity="0.6">INT0</text>
<text x="175.14999999999998" y="407.8" font-family="Liberation Sans" font-size="5.5" font-weight="normal" fill="#ffff00" text-anchor="middle" opacity="0.6">P3.2</text>
<text x="190.51999999999998" y="407.8" font-family="Liberation Sans" font-size="5.5" font-weight="normal" fill="#ffff00" text-anchor="middle" opacity="0.6">P3.3</text>
<text x="205.89" y="407.8" font-family="Liberation Sans" font-size="5.5" font-weight="normal" fill="#ffff00" text-anchor="middle" opacity="0.6">P3.4</text>
<text x="221.26" y="407.8" font-family="Liberation Sans" font-size="5.5" font-weight="normal" fill="#ffff00" text-anchor="middle" opacity="0.6">P3.5</text>
<text x="236.63" y="407.8" font-family="Liberation Sans" font-size="5.5" font-weight="normal" fill="#ffff00" text-anchor="middle" opacity="0.6">P3.6</text>
<text x="252.0" y="407.8" font-family="Liberation Sans" font-size="5.5" font-weight="normal" fill="#ffff00" text-anchor="middle" opacity="0.6">P3.7</text>
<text x="267.37" y="407.8" font-family="Liberation Sans" font-size="5.5" font-weight="normal" fill="#ffff00" text-anchor="middle" opacity="0.6">P0.0</text>
<text x="282.74" y="407.8" font-family="Liberation Sans" font-size="5.5" font-weight="normal" fill="#ffff00" text-anchor="middle" opacity="0.6">P0.1</text>
<text x="298.11" y="407.8" font-family="Liberation Sans" font-size="5.5" font-weight="normal" fill="#ffff00" text-anchor="middle" opacity="0.6">P0.2</text>
<text x="313.47999999999996" y="407.8" font-family="Liberation Sans" font-size="5.5" font-weight="normal" fill="#ffff00" text-anchor="middle" opacity="0.6">P0.3</text>
<text x="328.84999999999997" y="407.8" font-family="Liberation Sans" font-size="5.5" font-weight="normal" fill="#ffff00" text-anchor="middle" opacity="0.6">P0.4</text>
<text x="344.21999999999997" y="407.8" font-family="Liberation Sans" font-size="5.5" font-weight="normal" fill="#ffff00" text-anchor="middle" opacity="0.6">P0.5</text>
<text x="359.59" y="407.8" font-family="Liberation Sans" font-size="5.5" font-weight="normal" fill="#ffff00" text-anchor="middle" opacity="0.6">P0.6</text>
<text x="374.96" y="407.8" font-family="Liberation Sans" font-size="5.5" font-weight="normal" fill="#ffff00" text-anchor="middle" opacity="0.6">GND</text>
<text x="390.33" y="407.8" font-family="Liberation Sans" font-size="5.5" font-weight="normal" fill="#ffff00" text-anchor="middle" opacity="0.6">5V</text>
<rect x="450" y="269" width="48" height="1.5" fill="#ffff00"/>
<rect x="450" y="284" width="48" height="2" fill="#ffff00"/>
<rect x="450" y="269" width="2" height="17" fill="#ffff00"/>
<rect x="496" y="269" width="2" height="17" fill="#ffff00"/>
<rect x="466" y="269" width="1.2" height="16" fill="#ffff00"/>
<g transform="rotate(-90 436 283.9) translate(0,283.9)" fill="none" stroke="#ff0" stroke-width="2.0" stroke-linejoin="miter" stroke-linecap="square"><path transform="translate(436.00,0)" d="M1.00,1.00L1.00,9.80L5.20,9.80L6.90,8.10L6.90,7.10L5.20,5.40L1.00,5.40M5.20,5.40L6.30,4.30L6.30,2.70L4.60,1.00L1.00,1.00"/><path transform="translate(445.50,0)" d="M1.30,3.00L2.40,1.00L2.40,9.80M1.00,9.80L3.80,9.80"/></g>
<path d="M455.2,290.9 L462.3,290.9 L458.7,287 Z" fill="#ffff00"/>
<text x="461.2" y="266" font-family="Liberation Sans" font-size="6" font-weight="normal" fill="#ffff00" text-anchor="start" transform="rotate(-90 461.2 266)" opacity="0.6">VCC</text>
<text x="475.8" y="266" font-family="Liberation Sans" font-size="6" font-weight="normal" fill="#ffff00" text-anchor="start" transform="rotate(-90 475.8 266)" opacity="0.6">GND</text>
<text x="491.4" y="266" font-family="Liberation Sans" font-size="6" font-weight="normal" fill="#ffff00" text-anchor="start" transform="rotate(-90 491.4 266)" opacity="0.6">OUT</text>
<g transform="translate(0,198.2)" fill="none" stroke="#ff0" stroke-width="1.2" stroke-linejoin="miter" stroke-linecap="square"><path transform="translate(623.00,0)" d="M0.60,0.60L0.60,7.40L2.30,9.10L5.10,9.10L6.80,7.40L6.80,0.60"/><path transform="translate(632.20,0)" d="M0.90,2.60L2.40,0.60L2.40,9.10M0.60,9.10L4.20,9.10"/></g>
<rect x="622" y="212" width="17.100000000000023" height="2" fill="#ffff00"/>
<rect x="622" y="274" width="17.100000000000023" height="1.2" fill="#ffff00"/>
<rect x="622" y="212" width="2" height="63.19999999999999" fill="#ffff00"/>
<rect x="638" y="212" width="1.1" height="63.19999999999999" fill="#ffff00"/>
<rect x="622" y="258.3" width="17" height="2.4" fill="#ffff00"/>
<path d="M639.8,266.5 L644.1,263.1 L644.1,269.9 Z" fill="#ffff00"/>
<text x="612" y="222.2" font-family="Liberation Sans" font-size="6" font-weight="normal" fill="#ffff00" text-anchor="middle" opacity="0.6">AO</text>
<text x="612" y="237.7" font-family="Liberation Sans" font-size="6" font-weight="normal" fill="#ffff00" text-anchor="middle" opacity="0.6">DO</text>
<text x="612" y="253.2" font-family="Liberation Sans" font-size="6" font-weight="normal" fill="#ffff00" text-anchor="middle" opacity="0.6">GND</text>
<text x="612" y="268.1" font-family="Liberation Sans" font-size="6" font-weight="normal" fill="#ffff00" text-anchor="middle" opacity="0.6">VCC</text>
<g transform="translate(0,331)" fill="none" stroke="#ff0" stroke-width="1.2" stroke-linejoin="miter" stroke-linecap="square"><path transform="translate(535.00,0)" d="M0.60,0.60L0.60,8.50L2.30,10.20L5.40,10.20L7.10,8.50L7.10,0.60"/><path transform="translate(544.20,0)" d="M0.60,2.30L2.30,0.60L5.40,0.60L7.10,2.30L7.10,4.20L0.60,10.20L7.10,10.20"/></g>
<path d="M543.5,359.5 H597.4 V390.2 H543.5 V379.3 A4.3,4.3 0 0 0 543.5,370.7 Z" fill="none" stroke="#ffff00" stroke-width="1.4"/>
<circle cx="548" cy="386.5" r="1.4" fill="#ffff00"/>
<circle cx="537" cy="397.5" r="1.8" fill="#ffff00"/>
<g transform="translate(0,418.3)" fill="none" stroke="#ff0" stroke-width="1.3" stroke-linejoin="miter" stroke-linecap="square"><path transform="translate(219.20,0)" d="M0.65,0.65L0.65,7.65L2.35,9.35L5.15,9.35L6.85,7.65L6.85,0.65"/><path transform="translate(228.40,0)" d="M6.85,0.65L0.65,0.65L0.65,4.50L5.15,4.50L6.85,6.20L6.85,7.65L5.15,9.35L2.35,9.35L0.65,7.65"/></g>
<path d="M227.9,446.7 H281.5 V476.6 H227.9 V466.6 A4.6,4.6 0 0 0 227.9,457.4 Z" fill="none" stroke="#ffff00" stroke-width="1.5"/>
<circle cx="231.5" cy="473.4" r="1.5" fill="#ffff00"/>
<circle cx="221.5" cy="484.5" r="1.8" fill="#ffff00"/>
<g transform="translate(0,461.4)" fill="none" stroke="#ff0" stroke-width="1.3" stroke-linejoin="miter" stroke-linecap="square"><path transform="translate(123.80,0)" d="M0.65,0.65L0.65,7.95L2.35,9.65L5.15,9.65L6.85,7.95L6.85,0.65"/><path transform="translate(133.00,0)" d="M5.05,9.65L5.05,0.65L0.65,6.65L6.85,6.65"/></g>
<rect x="123" y="496" width="63" height="2" fill="#ffff00"/>
<rect x="123" y="511" width="63" height="1.2" fill="#ffff00"/>
<rect x="123" y="496" width="2" height="16.200000000000045" fill="#ffff00"/>
<rect x="184" y="496" width="2" height="16.200000000000045" fill="#ffff00"/>
<rect x="138" y="496" width="1.3" height="16" fill="#ffff00"/>
<path d="M128,516.7 L135.1,516.7 L131.5,513 Z" fill="#ffff00"/>
<text x="133.5" y="492" font-family="Liberation Sans" font-size="6" font-weight="normal" fill="#ffff00" text-anchor="start" transform="rotate(-90 133.5 492)" opacity="0.6">VCC</text>
<text x="148.5" y="492" font-family="Liberation Sans" font-size="6" font-weight="normal" fill="#ffff00" text-anchor="start" transform="rotate(-90 148.5 492)" opacity="0.6">GND</text>
<text x="163.8" y="492" font-family="Liberation Sans" font-size="6" font-weight="normal" fill="#ffff00" text-anchor="start" transform="rotate(-90 163.8 492)" opacity="0.6">DO</text>
<text x="179.1" y="492" font-family="Liberation Sans" font-size="6" font-weight="normal" fill="#ffff00" text-anchor="start" transform="rotate(-90 179.1 492)" opacity="0.6">AO</text>
<g transform="translate(0,466)" fill="none" stroke="#ff0" stroke-width="1.3" stroke-linejoin="miter" stroke-linecap="square"><path transform="translate(43.90,0)" d="M0.65,0.65L0.65,7.55L2.35,9.25L5.15,9.25L6.85,7.55L6.85,0.65"/><path transform="translate(53.10,0)" d="M6.85,0.65L3.45,0.65L0.65,3.45L0.65,7.55L2.35,9.25L5.15,9.25L6.85,7.55L6.85,6.65L5.15,4.95L0.65,4.95"/></g>
<rect x="47" y="480" width="17.0" height="2" fill="#ffff00"/>
<rect x="47" y="526" width="17.0" height="2" fill="#ffff00"/>
<rect x="47" y="480" width="2" height="48" fill="#ffff00"/>
<rect x="62.6" y="480" width="1.4" height="48" fill="#ffff00"/>
<rect x="47" y="495" width="17" height="2" fill="#ffff00"/>
<path d="M43,484.9 L43,491.7 L46.7,488.3 Z" fill="#ffff00"/>
<text x="65.8" y="491.1" font-family="Liberation Sans" font-size="7.5" font-weight="normal" fill="#ffff00" text-anchor="start" textLength="17.2" lengthAdjust="spacingAndGlyphs" opacity="0.6">VCC</text>
<text x="65.8" y="507.0" font-family="Liberation Sans" font-size="7.5" font-weight="normal" fill="#ffff00" text-anchor="start" textLength="17.2" lengthAdjust="spacingAndGlyphs" opacity="0.6">GND</text>
<text x="65.8" y="522.0" font-family="Liberation Sans" font-size="7.5" font-weight="normal" fill="#ffff00" text-anchor="start" textLength="17.2" lengthAdjust="spacingAndGlyphs" opacity="0.6">OUT</text>
<g transform="translate(0,566.1)" fill="none" stroke="#ff0" stroke-width="1.3" stroke-linejoin="miter" stroke-linecap="square"><path transform="translate(92.80,0)" d="M2.85,0.65L7.15,0.65M5.65,0.65L5.65,7.35L3.95,9.05L2.35,9.05L0.65,7.35"/><path transform="translate(101.90,0)" d="M0.65,0.65L0.65,9.05M7.15,0.65L0.65,6.05M2.95,4.05L7.15,9.05"/><path transform="translate(111.00,0)" d="M0.95,2.65L2.40,0.65L2.40,9.05M0.65,9.05L4.15,9.05"/></g>
<rect x="92" y="600" width="61" height="2" fill="#ffff00"/>
<rect x="92" y="616" width="61" height="2" fill="#ffff00"/>
<rect x="92" y="600" width="2" height="18" fill="#ffff00"/>
<rect x="151" y="600" width="2" height="18" fill="#ffff00"/>
<rect x="106" y="600" width="2" height="18" fill="#ffff00"/>
<path d="M96,621.7 L103.1,621.7 L99.5,618 Z" fill="#ffff00"/>
<text x="101.5" y="597" font-family="Liberation Sans" font-size="6" font-weight="normal" fill="#ffff00" text-anchor="start" transform="rotate(-90 101.5 597)" opacity="0.6">VCC</text>
<text x="116.6" y="597" font-family="Liberation Sans" font-size="6" font-weight="normal" fill="#ffff00" text-anchor="start" transform="rotate(-90 116.6 597)" opacity="0.6">SW1</text>
<text x="132.2" y="597" font-family="Liberation Sans" font-size="6" font-weight="normal" fill="#ffff00" text-anchor="start" transform="rotate(-90 132.2 597)" opacity="0.6">IN</text>
<text x="147.5" y="597" font-family="Liberation Sans" font-size="6" font-weight="normal" fill="#ffff00" text-anchor="start" transform="rotate(-90 147.5 597)" opacity="0.6">C</text>
<g transform="translate(0,503.5)" fill="none" stroke="#ff0" stroke-width="1.3" stroke-linejoin="miter" stroke-linecap="square"><path transform="translate(621.70,0)" d="M0.65,0.65L0.65,7.65L2.35,9.35L5.15,9.35L6.85,7.65L6.85,0.65"/><path transform="translate(630.90,0)" d="M0.65,2.35L2.35,0.65L5.15,0.65L6.85,2.35L6.85,3.30L5.15,5.00L2.65,5.00M5.15,5.00L6.85,6.70L6.85,7.65L5.15,9.35L2.35,9.35L0.65,7.65"/></g>
<rect x="622" y="517" width="17.100000000000023" height="2" fill="#ffff00"/>
<rect x="622" y="579" width="17.100000000000023" height="1.1" fill="#ffff00"/>
<rect x="622" y="517" width="2" height="63.10000000000002" fill="#ffff00"/>
<rect x="638" y="517" width="1.1" height="63.10000000000002" fill="#ffff00"/>
<rect x="622" y="562.3" width="17" height="2.6" fill="#ffff00"/>
<path d="M640.1,571.3 L644.1,567.8 L644.1,574.9 Z" fill="#ffff00"/>
<text x="612" y="527.1" font-family="Liberation Sans" font-size="6" font-weight="normal" fill="#ffff00" text-anchor="middle" opacity="0.6">AO</text>
<text x="612" y="542.6" font-family="Liberation Sans" font-size="6" font-weight="normal" fill="#ffff00" text-anchor="middle" opacity="0.6">DO</text>
<text x="612" y="558.4" font-family="Liberation Sans" font-size="6" font-weight="normal" fill="#ffff00" text-anchor="middle" opacity="0.6">GND</text>
<text x="612" y="573.5" font-family="Liberation Sans" font-size="6" font-weight="normal" fill="#ffff00" text-anchor="middle" opacity="0.6">VCC</text>
<g transform="translate(0,560.9)" fill="none" stroke="#ff0" stroke-width="1.2" stroke-linejoin="miter" stroke-linecap="square"><path transform="translate(364.90,0)" d="M0.60,0.60L0.60,10.30M6.70,0.60L0.60,6.65M2.90,4.65L6.70,10.30"/><path transform="translate(373.80,0)" d="M0.90,2.60L2.40,0.60L2.40,10.30M0.60,10.30L4.20,10.30"/></g>
<rect x="369.0" y="578" width="44.10000000000002" height="2" fill="#ffff00"/>
<rect x="369.0" y="612" width="44.10000000000002" height="1.3" fill="#ffff00"/>
<rect x="369.0" y="578" width="1.1" height="35.299999999999955" fill="#ffff00"/>
<rect x="412.0" y="578" width="1.1" height="35.299999999999955" fill="#ffff00"/>
<g transform="translate(0,560.9)" fill="none" stroke="#ff0" stroke-width="1.2" stroke-linejoin="miter" stroke-linecap="square"><path transform="translate(438.70,0)" d="M0.60,0.60L0.60,10.30M6.70,0.60L0.60,6.65M2.90,4.65L6.70,10.30"/><path transform="translate(447.60,0)" d="M0.60,2.30L2.30,0.60L5.00,0.60L6.70,2.30L6.70,4.25L0.60,10.30L6.70,10.30"/></g>
<rect x="442.8" y="578" width="44.10000000000002" height="2" fill="#ffff00"/>
<rect x="442.8" y="612" width="44.10000000000002" height="1.3" fill="#ffff00"/>
<rect x="442.8" y="578" width="1.1" height="35.299999999999955" fill="#ffff00"/>
<rect x="485.8" y="578" width="1.1" height="35.299999999999955" fill="#ffff00"/>
<g transform="translate(0,560.9)" fill="none" stroke="#ff0" stroke-width="1.2" stroke-linejoin="miter" stroke-linecap="square"><path transform="translate(512.50,0)" d="M0.60,0.60L0.60,10.30M6.70,0.60L0.60,6.65M2.90,4.65L6.70,10.30"/><path transform="translate(521.40,0)" d="M0.60,2.30L2.30,0.60L5.00,0.60L6.70,2.30L6.70,3.75L5.00,5.45L2.60,5.45M5.00,5.45L6.70,7.15L6.70,8.60L5.00,10.30L2.30,10.30L0.60,8.60"/></g>
<rect x="516.6" y="578" width="44.10000000000002" height="2" fill="#ffff00"/>
<rect x="516.6" y="612" width="44.10000000000002" height="1.3" fill="#ffff00"/>
<rect x="516.6" y="578" width="1.1" height="35.299999999999955" fill="#ffff00"/>
<rect x="559.6" y="578" width="1.1" height="35.299999999999955" fill="#ffff00"/>
<rect x="88.80" y="25.70" width="11.30" height="14.30" fill="#000"/>
<rect x="90.10" y="27.00" width="8.70" height="11.70" fill="#c0c0c0"/>
<ellipse cx="94.45" cy="32.85" rx="2.26" ry="3.04" fill="#008a8a"/>
<ellipse cx="110.25" cy="33.05" rx="5.95" ry="7.25" fill="#000"/>
<ellipse cx="110.25" cy="33.05" rx="4.55" ry="5.85" fill="#c0c0c0"/>
<ellipse cx="110.25" cy="33.05" rx="2.55" ry="3.28" fill="#008a8a"/>
<ellipse cx="125.58" cy="33.05" rx="5.95" ry="7.25" fill="#000"/>
<ellipse cx="125.58" cy="33.05" rx="4.55" ry="5.85" fill="#c0c0c0"/>
<ellipse cx="125.58" cy="33.05" rx="2.55" ry="3.28" fill="#008a8a"/>
<ellipse cx="140.91" cy="33.05" rx="5.95" ry="7.25" fill="#000"/>
<ellipse cx="140.91" cy="33.05" rx="4.55" ry="5.85" fill="#c0c0c0"/>
<ellipse cx="140.91" cy="33.05" rx="2.55" ry="3.28" fill="#008a8a"/>
<ellipse cx="156.24" cy="33.05" rx="5.95" ry="7.25" fill="#000"/>
<ellipse cx="156.24" cy="33.05" rx="4.55" ry="5.85" fill="#c0c0c0"/>
<ellipse cx="156.24" cy="33.05" rx="2.55" ry="3.28" fill="#008a8a"/>
<ellipse cx="171.57" cy="33.05" rx="5.95" ry="7.25" fill="#000"/>
<ellipse cx="171.57" cy="33.05" rx="4.55" ry="5.85" fill="#c0c0c0"/>
<ellipse cx="171.57" cy="33.05" rx="2.55" ry="3.28" fill="#008a8a"/>
<ellipse cx="186.90" cy="33.05" rx="5.95" ry="7.25" fill="#000"/>
<ellipse cx="186.90" cy="33.05" rx="4.55" ry="5.85" fill="#c0c0c0"/>
<ellipse cx="186.90" cy="33.05" rx="2.55" ry="3.28" fill="#008a8a"/>
<ellipse cx="202.23" cy="33.05" rx="5.95" ry="7.25" fill="#000"/>
<ellipse cx="202.23" cy="33.05" rx="4.55" ry="5.85" fill="#c0c0c0"/>
<ellipse cx="202.23" cy="33.05" rx="2.55" ry="3.28" fill="#008a8a"/>
<ellipse cx="217.56" cy="33.05" rx="5.95" ry="7.25" fill="#000"/>
<ellipse cx="217.56" cy="33.05" rx="4.55" ry="5.85" fill="#c0c0c0"/>
<ellipse cx="217.56" cy="33.05" rx="2.55" ry="3.28" fill="#008a8a"/>
<ellipse cx="232.89" cy="33.05" rx="5.95" ry="7.25" fill="#000"/>
<ellipse cx="232.89" cy="33.05" rx="4.55" ry="5.85" fill="#c0c0c0"/>
<ellipse cx="232.89" cy="33.05" rx="2.55" ry="3.28" fill="#008a8a"/>
<ellipse cx="248.22" cy="33.05" rx="5.95" ry="7.25" fill="#000"/>
<ellipse cx="248.22" cy="33.05" rx="4.55" ry="5.85" fill="#c0c0c0"/>
<ellipse cx="248.22" cy="33.05" rx="2.55" ry="3.28" fill="#008a8a"/>
<ellipse cx="263.55" cy="33.05" rx="5.95" ry="7.25" fill="#000"/>
<ellipse cx="263.55" cy="33.05" rx="4.55" ry="5.85" fill="#c0c0c0"/>
<ellipse cx="263.55" cy="33.05" rx="2.55" ry="3.28" fill="#008a8a"/>
<ellipse cx="278.88" cy="33.05" rx="5.95" ry="7.25" fill="#000"/>
<ellipse cx="278.88" cy="33.05" rx="4.55" ry="5.85" fill="#c0c0c0"/>
<ellipse cx="278.88" cy="33.05" rx="2.55" ry="3.28" fill="#008a8a"/>
<ellipse cx="294.21" cy="33.05" rx="5.95" ry="7.25" fill="#000"/>
<ellipse cx="294.21" cy="33.05" rx="4.55" ry="5.85" fill="#c0c0c0"/>
<ellipse cx="294.21" cy="33.05" rx="2.55" ry="3.28" fill="#008a8a"/>
<ellipse cx="309.54" cy="33.05" rx="5.95" ry="7.25" fill="#000"/>
<ellipse cx="309.54" cy="33.05" rx="4.55" ry="5.85" fill="#c0c0c0"/>
<ellipse cx="309.54" cy="33.05" rx="2.55" ry="3.28" fill="#008a8a"/>
<ellipse cx="324.87" cy="33.05" rx="5.95" ry="7.25" fill="#000"/>
<ellipse cx="324.87" cy="33.05" rx="4.55" ry="5.85" fill="#c0c0c0"/>
<ellipse cx="324.87" cy="33.05" rx="2.55" ry="3.28" fill="#008a8a"/>
<rect x="138.91" y="39" width="4" height="2" fill="#0000ff"/>
<rect x="154.24" y="39" width="4" height="2" fill="#0000ff"/>
<rect x="169.57" y="39" width="4" height="2" fill="#0000ff"/>
<rect x="184.90" y="39" width="4" height="2" fill="#0000ff"/>
<rect x="200.23" y="39" width="4" height="2" fill="#0000ff"/>
<rect x="215.56" y="39" width="4" height="2" fill="#0000ff"/>
<rect x="230.89" y="39" width="4" height="2" fill="#0000ff"/>
<rect x="246.22" y="39" width="4" height="2" fill="#0000ff"/>
<rect x="261.55" y="39" width="4" height="2" fill="#0000ff"/>
<rect x="276.88" y="39" width="4" height="2" fill="#0000ff"/>
<rect x="292.21" y="39" width="4" height="2" fill="#0000ff"/>
<rect x="307.54" y="39" width="4" height="2" fill="#0000ff"/>
<rect x="322.87" y="39" width="4" height="2" fill="#0000ff"/>
<rect x="92.90" y="279.75" width="11.20" height="11.30" fill="#000"/>
<rect x="92.40" y="284.40" width="12.20" height="2" fill="#ff0000"/>
<rect x="97.50" y="279.25" width="2" height="12.30" fill="#ff0000"/>
<rect x="94.20" y="281.05" width="8.60" height="8.70" fill="#c0c0c0"/>
<ellipse cx="98.50" cy="285.40" rx="2.24" ry="2.26" fill="#008a8a"/>
<ellipse cx="98.30" cy="393.50" rx="5.70" ry="5.70" fill="#000"/>
<rect x="92.10" y="392.30" width="12.40" height="2.4" fill="#ff0000"/>
<rect x="97.10" y="387.30" width="2.4" height="12.40" fill="#ff0000"/>
<ellipse cx="98.30" cy="393.50" rx="4.1" ry="4.1" fill="#c0c0c0"/>
<ellipse cx="98.30" cy="393.50" rx="2.30" ry="2.30" fill="#008a8a"/>
<ellipse cx="113.87" cy="285.40" rx="5.70" ry="5.70" fill="#000"/>
<rect x="107.67" y="284.20" width="12.40" height="2.4" fill="#ff0000"/>
<rect x="112.67" y="279.20" width="2.4" height="12.40" fill="#ff0000"/>
<ellipse cx="113.87" cy="285.40" rx="4.1" ry="4.1" fill="#c0c0c0"/>
<ellipse cx="113.87" cy="285.40" rx="2.30" ry="2.30" fill="#008a8a"/>
<ellipse cx="113.67" cy="393.50" rx="5.70" ry="5.70" fill="#000"/>
<rect x="107.47" y="392.30" width="12.40" height="2.4" fill="#ff0000"/>
<rect x="112.47" y="387.30" width="2.4" height="12.40" fill="#ff0000"/>
<ellipse cx="113.67" cy="393.50" rx="4.1" ry="4.1" fill="#c0c0c0"/>
<ellipse cx="113.67" cy="393.50" rx="2.30" ry="2.30" fill="#008a8a"/>
<ellipse cx="129.24" cy="285.40" rx="5.70" ry="5.70" fill="#000"/>
<rect x="123.04" y="284.20" width="12.40" height="2.4" fill="#ff0000"/>
<rect x="128.04" y="279.20" width="2.4" height="12.40" fill="#ff0000"/>
<ellipse cx="129.24" cy="285.40" rx="4.1" ry="4.1" fill="#c0c0c0"/>
<ellipse cx="129.24" cy="285.40" rx="2.30" ry="2.30" fill="#008a8a"/>
<ellipse cx="129.04" cy="393.50" rx="5.70" ry="5.70" fill="#000"/>
<rect x="122.84" y="392.30" width="12.40" height="2.4" fill="#ff0000"/>
<rect x="127.84" y="387.30" width="2.4" height="12.40" fill="#ff0000"/>
<ellipse cx="129.04" cy="393.50" rx="4.1" ry="4.1" fill="#c0c0c0"/>
<ellipse cx="129.04" cy="393.50" rx="2.30" ry="2.30" fill="#008a8a"/>
<ellipse cx="144.61" cy="285.40" rx="5.70" ry="5.70" fill="#000"/>
<rect x="138.41" y="284.20" width="12.40" height="2.4" fill="#ff0000"/>
<rect x="143.41" y="279.20" width="2.4" height="12.40" fill="#ff0000"/>
<ellipse cx="144.61" cy="285.40" rx="4.1" ry="4.1" fill="#c0c0c0"/>
<ellipse cx="144.61" cy="285.40" rx="2.30" ry="2.30" fill="#008a8a"/>
<ellipse cx="144.41" cy="393.50" rx="5.70" ry="5.70" fill="#000"/>
<rect x="138.21" y="392.30" width="12.40" height="2.4" fill="#ff0000"/>
<rect x="143.21" y="387.30" width="2.4" height="12.40" fill="#ff0000"/>
<ellipse cx="144.41" cy="393.50" rx="4.1" ry="4.1" fill="#c0c0c0"/>
<ellipse cx="144.41" cy="393.50" rx="2.30" ry="2.30" fill="#008a8a"/>
<ellipse cx="159.98" cy="285.40" rx="5.70" ry="5.70" fill="#000"/>
<rect x="153.78" y="284.20" width="12.40" height="2.4" fill="#ff0000"/>
<rect x="158.78" y="279.20" width="2.4" height="12.40" fill="#ff0000"/>
<ellipse cx="159.98" cy="285.40" rx="4.1" ry="4.1" fill="#c0c0c0"/>
<ellipse cx="159.98" cy="285.40" rx="2.30" ry="2.30" fill="#008a8a"/>
<ellipse cx="159.78" cy="393.50" rx="5.70" ry="5.70" fill="#000"/>
<rect x="153.58" y="392.30" width="12.40" height="2.4" fill="#ff0000"/>
<rect x="158.58" y="387.30" width="2.4" height="12.40" fill="#ff0000"/>
<ellipse cx="159.78" cy="393.50" rx="4.1" ry="4.1" fill="#c0c0c0"/>
<ellipse cx="159.78" cy="393.50" rx="2.30" ry="2.30" fill="#008a8a"/>
<ellipse cx="175.35" cy="285.40" rx="5.70" ry="5.70" fill="#000"/>
<rect x="169.15" y="284.20" width="12.40" height="2.4" fill="#ff0000"/>
<rect x="174.15" y="279.20" width="2.4" height="12.40" fill="#ff0000"/>
<ellipse cx="175.35" cy="285.40" rx="4.1" ry="4.1" fill="#c0c0c0"/>
<ellipse cx="175.35" cy="285.40" rx="2.30" ry="2.30" fill="#008a8a"/>
<ellipse cx="175.15" cy="393.50" rx="5.70" ry="5.70" fill="#000"/>
<rect x="168.95" y="392.30" width="12.40" height="2.4" fill="#ff0000"/>
<rect x="173.95" y="387.30" width="2.4" height="12.40" fill="#ff0000"/>
<ellipse cx="175.15" cy="393.50" rx="4.1" ry="4.1" fill="#c0c0c0"/>
<ellipse cx="175.15" cy="393.50" rx="2.30" ry="2.30" fill="#008a8a"/>
<ellipse cx="190.72" cy="285.40" rx="5.70" ry="5.70" fill="#000"/>
<rect x="184.52" y="284.20" width="12.40" height="2.4" fill="#ff0000"/>
<rect x="189.52" y="279.20" width="2.4" height="12.40" fill="#ff0000"/>
<ellipse cx="190.72" cy="285.40" rx="4.1" ry="4.1" fill="#c0c0c0"/>
<ellipse cx="190.72" cy="285.40" rx="2.30" ry="2.30" fill="#008a8a"/>
<ellipse cx="190.52" cy="393.50" rx="5.70" ry="5.70" fill="#000"/>
<rect x="184.32" y="392.30" width="12.40" height="2.4" fill="#ff0000"/>
<rect x="189.32" y="387.30" width="2.4" height="12.40" fill="#ff0000"/>
<ellipse cx="190.52" cy="393.50" rx="4.1" ry="4.1" fill="#c0c0c0"/>
<ellipse cx="190.52" cy="393.50" rx="2.30" ry="2.30" fill="#008a8a"/>
<ellipse cx="206.09" cy="285.40" rx="5.70" ry="5.70" fill="#000"/>
<rect x="199.89" y="284.20" width="12.40" height="2.4" fill="#ff0000"/>
<rect x="204.89" y="279.20" width="2.4" height="12.40" fill="#ff0000"/>
<ellipse cx="206.09" cy="285.40" rx="4.1" ry="4.1" fill="#c0c0c0"/>
<ellipse cx="206.09" cy="285.40" rx="2.30" ry="2.30" fill="#008a8a"/>
<ellipse cx="205.89" cy="393.50" rx="5.70" ry="5.70" fill="#000"/>
<rect x="199.69" y="392.30" width="12.40" height="2.4" fill="#ff0000"/>
<rect x="204.69" y="387.30" width="2.4" height="12.40" fill="#ff0000"/>
<ellipse cx="205.89" cy="393.50" rx="4.1" ry="4.1" fill="#c0c0c0"/>
<ellipse cx="205.89" cy="393.50" rx="2.30" ry="2.30" fill="#008a8a"/>
<ellipse cx="221.46" cy="285.40" rx="5.70" ry="5.70" fill="#000"/>
<rect x="215.26" y="284.20" width="12.40" height="2.4" fill="#ff0000"/>
<rect x="220.26" y="279.20" width="2.4" height="12.40" fill="#ff0000"/>
<ellipse cx="221.46" cy="285.40" rx="4.1" ry="4.1" fill="#c0c0c0"/>
<ellipse cx="221.46" cy="285.40" rx="2.30" ry="2.30" fill="#008a8a"/>
<ellipse cx="221.26" cy="393.50" rx="5.70" ry="5.70" fill="#000"/>
<rect x="215.06" y="392.30" width="12.40" height="2.4" fill="#ff0000"/>
<rect x="220.06" y="387.30" width="2.4" height="12.40" fill="#ff0000"/>
<ellipse cx="221.26" cy="393.50" rx="4.1" ry="4.1" fill="#c0c0c0"/>
<ellipse cx="221.26" cy="393.50" rx="2.30" ry="2.30" fill="#008a8a"/>
<ellipse cx="236.83" cy="285.40" rx="5.70" ry="5.70" fill="#000"/>
<rect x="230.63" y="284.20" width="12.40" height="2.4" fill="#ff0000"/>
<rect x="235.63" y="279.20" width="2.4" height="12.40" fill="#ff0000"/>
<ellipse cx="236.83" cy="285.40" rx="4.1" ry="4.1" fill="#c0c0c0"/>
<ellipse cx="236.83" cy="285.40" rx="2.30" ry="2.30" fill="#008a8a"/>
<ellipse cx="236.63" cy="393.50" rx="5.70" ry="5.70" fill="#000"/>
<rect x="230.43" y="392.30" width="12.40" height="2.4" fill="#ff0000"/>
<rect x="235.43" y="387.30" width="2.4" height="12.40" fill="#ff0000"/>
<ellipse cx="236.63" cy="393.50" rx="4.1" ry="4.1" fill="#c0c0c0"/>
<ellipse cx="236.63" cy="393.50" rx="2.30" ry="2.30" fill="#008a8a"/>
<ellipse cx="252.20" cy="285.40" rx="5.70" ry="5.70" fill="#000"/>
<rect x="246.00" y="284.20" width="12.40" height="2.4" fill="#ff0000"/>
<rect x="251.00" y="279.20" width="2.4" height="12.40" fill="#ff0000"/>
<ellipse cx="252.20" cy="285.40" rx="4.1" ry="4.1" fill="#c0c0c0"/>
<ellipse cx="252.20" cy="285.40" rx="2.30" ry="2.30" fill="#008a8a"/>
<ellipse cx="252.00" cy="393.50" rx="5.70" ry="5.70" fill="#000"/>
<rect x="245.80" y="392.30" width="12.40" height="2.4" fill="#ff0000"/>
<rect x="250.80" y="387.30" width="2.4" height="12.40" fill="#ff0000"/>
<ellipse cx="252.00" cy="393.50" rx="4.1" ry="4.1" fill="#c0c0c0"/>
<ellipse cx="252.00" cy="393.50" rx="2.30" ry="2.30" fill="#008a8a"/>
<ellipse cx="267.57" cy="285.40" rx="5.70" ry="5.70" fill="#000"/>
<rect x="261.37" y="284.20" width="12.40" height="2.4" fill="#ff0000"/>
<rect x="266.37" y="279.20" width="2.4" height="12.40" fill="#ff0000"/>
<ellipse cx="267.57" cy="285.40" rx="4.1" ry="4.1" fill="#c0c0c0"/>
<ellipse cx="267.57" cy="285.40" rx="2.30" ry="2.30" fill="#008a8a"/>
<ellipse cx="267.37" cy="393.50" rx="5.70" ry="5.70" fill="#000"/>
<rect x="261.17" y="392.30" width="12.40" height="2.4" fill="#ff0000"/>
<rect x="266.17" y="387.30" width="2.4" height="12.40" fill="#ff0000"/>
<ellipse cx="267.37" cy="393.50" rx="4.1" ry="4.1" fill="#c0c0c0"/>
<ellipse cx="267.37" cy="393.50" rx="2.30" ry="2.30" fill="#008a8a"/>
<ellipse cx="282.94" cy="285.40" rx="5.70" ry="5.70" fill="#000"/>
<rect x="276.74" y="284.20" width="12.40" height="2.4" fill="#ff0000"/>
<rect x="281.74" y="279.20" width="2.4" height="12.40" fill="#ff0000"/>
<ellipse cx="282.94" cy="285.40" rx="4.1" ry="4.1" fill="#c0c0c0"/>
<ellipse cx="282.94" cy="285.40" rx="2.30" ry="2.30" fill="#008a8a"/>
<ellipse cx="282.74" cy="393.50" rx="5.70" ry="5.70" fill="#000"/>
<rect x="276.54" y="392.30" width="12.40" height="2.4" fill="#ff0000"/>
<rect x="281.54" y="387.30" width="2.4" height="12.40" fill="#ff0000"/>
<ellipse cx="282.74" cy="393.50" rx="4.1" ry="4.1" fill="#c0c0c0"/>
<ellipse cx="282.74" cy="393.50" rx="2.30" ry="2.30" fill="#008a8a"/>
<ellipse cx="298.31" cy="285.40" rx="5.70" ry="5.70" fill="#000"/>
<rect x="292.11" y="284.20" width="12.40" height="2.4" fill="#ff0000"/>
<rect x="297.11" y="279.20" width="2.4" height="12.40" fill="#ff0000"/>
<ellipse cx="298.31" cy="285.40" rx="4.1" ry="4.1" fill="#c0c0c0"/>
<ellipse cx="298.31" cy="285.40" rx="2.30" ry="2.30" fill="#008a8a"/>
<ellipse cx="298.11" cy="393.50" rx="5.70" ry="5.70" fill="#000"/>
<rect x="291.91" y="392.30" width="12.40" height="2.4" fill="#ff0000"/>
<rect x="296.91" y="387.30" width="2.4" height="12.40" fill="#ff0000"/>
<ellipse cx="298.11" cy="393.50" rx="4.1" ry="4.1" fill="#c0c0c0"/>
<ellipse cx="298.11" cy="393.50" rx="2.30" ry="2.30" fill="#008a8a"/>
<ellipse cx="313.68" cy="285.40" rx="5.70" ry="5.70" fill="#000"/>
<rect x="307.48" y="284.20" width="12.40" height="2.4" fill="#ff0000"/>
<rect x="312.48" y="279.20" width="2.4" height="12.40" fill="#ff0000"/>
<ellipse cx="313.68" cy="285.40" rx="4.1" ry="4.1" fill="#c0c0c0"/>
<ellipse cx="313.68" cy="285.40" rx="2.30" ry="2.30" fill="#008a8a"/>
<ellipse cx="313.48" cy="393.50" rx="5.70" ry="5.70" fill="#000"/>
<rect x="307.28" y="392.30" width="12.40" height="2.4" fill="#ff0000"/>
<rect x="312.28" y="387.30" width="2.4" height="12.40" fill="#ff0000"/>
<ellipse cx="313.48" cy="393.50" rx="4.1" ry="4.1" fill="#c0c0c0"/>
<ellipse cx="313.48" cy="393.50" rx="2.30" ry="2.30" fill="#008a8a"/>
<ellipse cx="329.05" cy="285.40" rx="5.70" ry="5.70" fill="#000"/>
<rect x="322.85" y="284.20" width="12.40" height="2.4" fill="#ff0000"/>
<rect x="327.85" y="279.20" width="2.4" height="12.40" fill="#ff0000"/>
<ellipse cx="329.05" cy="285.40" rx="4.1" ry="4.1" fill="#c0c0c0"/>
<ellipse cx="329.05" cy="285.40" rx="2.30" ry="2.30" fill="#008a8a"/>
<ellipse cx="328.85" cy="393.50" rx="5.70" ry="5.70" fill="#000"/>
<rect x="322.65" y="392.30" width="12.40" height="2.4" fill="#ff0000"/>
<rect x="327.65" y="387.30" width="2.4" height="12.40" fill="#ff0000"/>
<ellipse cx="328.85" cy="393.50" rx="4.1" ry="4.1" fill="#c0c0c0"/>
<ellipse cx="328.85" cy="393.50" rx="2.30" ry="2.30" fill="#008a8a"/>
<ellipse cx="344.42" cy="285.40" rx="5.70" ry="5.70" fill="#000"/>
<rect x="338.22" y="284.20" width="12.40" height="2.4" fill="#ff0000"/>
<rect x="343.22" y="279.20" width="2.4" height="12.40" fill="#ff0000"/>
<ellipse cx="344.42" cy="285.40" rx="4.1" ry="4.1" fill="#c0c0c0"/>
<ellipse cx="344.42" cy="285.40" rx="2.30" ry="2.30" fill="#008a8a"/>
<ellipse cx="344.22" cy="393.50" rx="5.70" ry="5.70" fill="#000"/>
<rect x="338.02" y="392.30" width="12.40" height="2.4" fill="#ff0000"/>
<rect x="343.02" y="387.30" width="2.4" height="12.40" fill="#ff0000"/>
<ellipse cx="344.22" cy="393.50" rx="4.1" ry="4.1" fill="#c0c0c0"/>
<ellipse cx="344.22" cy="393.50" rx="2.30" ry="2.30" fill="#008a8a"/>
<ellipse cx="359.79" cy="285.40" rx="5.70" ry="5.70" fill="#000"/>
<rect x="353.59" y="284.20" width="12.40" height="2.4" fill="#ff0000"/>
<rect x="358.59" y="279.20" width="2.4" height="12.40" fill="#ff0000"/>
<ellipse cx="359.79" cy="285.40" rx="4.1" ry="4.1" fill="#c0c0c0"/>
<ellipse cx="359.79" cy="285.40" rx="2.30" ry="2.30" fill="#008a8a"/>
<ellipse cx="359.59" cy="393.50" rx="5.70" ry="5.70" fill="#000"/>
<rect x="353.39" y="392.30" width="12.40" height="2.4" fill="#ff0000"/>
<rect x="358.39" y="387.30" width="2.4" height="12.40" fill="#ff0000"/>
<ellipse cx="359.59" cy="393.50" rx="4.1" ry="4.1" fill="#c0c0c0"/>
<ellipse cx="359.59" cy="393.50" rx="2.30" ry="2.30" fill="#008a8a"/>
<ellipse cx="375.16" cy="285.40" rx="5.70" ry="5.70" fill="#000"/>
<rect x="368.96" y="284.20" width="12.40" height="2.4" fill="#ff0000"/>
<rect x="373.96" y="279.20" width="2.4" height="12.40" fill="#ff0000"/>
<ellipse cx="375.16" cy="285.40" rx="4.1" ry="4.1" fill="#c0c0c0"/>
<ellipse cx="375.16" cy="285.40" rx="2.30" ry="2.30" fill="#008a8a"/>
<ellipse cx="374.96" cy="393.50" rx="5.70" ry="5.70" fill="#000"/>
<rect x="368.76" y="392.30" width="12.40" height="2.4" fill="#ff0000"/>
<rect x="373.76" y="387.30" width="2.4" height="12.40" fill="#ff0000"/>
<ellipse cx="374.96" cy="393.50" rx="4.1" ry="4.1" fill="#c0c0c0"/>
<ellipse cx="374.96" cy="393.50" rx="2.30" ry="2.30" fill="#008a8a"/>
<circle cx="390.53" cy="285.4" r="5.8" fill="#0000ff"/>
<circle cx="390.53" cy="285.4" r="4.1" fill="#c0c0c0"/>
<circle cx="390.53" cy="285.4" r="2.3" fill="#008a8a"/>
<ellipse cx="390.33" cy="393.50" rx="5.70" ry="5.70" fill="#000"/>
<rect x="384.13" y="392.30" width="12.40" height="2.4" fill="#ff0000"/>
<rect x="389.13" y="387.30" width="2.4" height="12.40" fill="#ff0000"/>
<ellipse cx="390.33" cy="393.50" rx="4.1" ry="4.1" fill="#c0c0c0"/>
<ellipse cx="390.33" cy="393.50" rx="2.30" ry="2.30" fill="#008a8a"/>
<ellipse cx="576.00" cy="34.80" rx="5.80" ry="5.80" fill="#000"/>
<rect x="569.70" y="34.20" width="12.60" height="1.2" fill="#a000a0"/>
<rect x="575.40" y="28.50" width="1.2" height="12.60" fill="#a000a0"/>
<ellipse cx="576.00" cy="34.80" rx="4.6" ry="4.6" fill="#c0c0c0"/>
<ellipse cx="576.00" cy="34.80" rx="2.58" ry="2.58" fill="#008a8a"/>
<rect x="555.30" y="59.30" width="11.40" height="11.40" fill="#000"/>
<rect x="556.50" y="60.50" width="9.00" height="9.00" fill="#c0c0c0"/>
<ellipse cx="561.00" cy="65.00" rx="2.34" ry="2.34" fill="#008a8a"/>
<ellipse cx="590.60" cy="65.00" rx="5.80" ry="5.80" fill="#000"/>
<rect x="584.30" y="64.40" width="12.60" height="1.2" fill="#a000a0"/>
<rect x="590.00" y="58.70" width="1.2" height="12.60" fill="#a000a0"/>
<ellipse cx="590.60" cy="65.00" rx="4.6" ry="4.6" fill="#c0c0c0"/>
<ellipse cx="590.60" cy="65.00" rx="2.58" ry="2.58" fill="#008a8a"/>
<rect x="629.10" y="76.05" width="13.00" height="11.70" fill="#000"/>
<rect x="630.30" y="77.25" width="10.60" height="9.30" fill="#c0c0c0"/>
<ellipse cx="635.60" cy="81.90" rx="2.76" ry="2.42" fill="#008a8a"/>
<ellipse cx="635.60" cy="97.40" rx="6.30" ry="5.70" fill="#000"/>
<rect x="628.80" y="96.80" width="13.60" height="1.2" fill="#a000a0"/>
<rect x="635.00" y="91.20" width="1.2" height="12.40" fill="#a000a0"/>
<ellipse cx="635.60" cy="97.40" rx="5.2" ry="4.6" fill="#c0c0c0"/>
<ellipse cx="635.60" cy="97.40" rx="2.91" ry="2.58" fill="#008a8a"/>
<ellipse cx="635.60" cy="113.10" rx="6.30" ry="5.70" fill="#000"/>
<rect x="628.80" y="112.50" width="13.60" height="1.2" fill="#a000a0"/>
<rect x="635.00" y="106.90" width="1.2" height="12.40" fill="#a000a0"/>
<ellipse cx="635.60" cy="113.10" rx="5.2" ry="4.6" fill="#c0c0c0"/>
<ellipse cx="635.60" cy="113.10" rx="2.91" ry="2.58" fill="#008a8a"/>
<ellipse cx="635.60" cy="128.30" rx="6.30" ry="5.70" fill="#000"/>
<rect x="628.80" y="127.70" width="13.60" height="1.2" fill="#a000a0"/>
<rect x="635.00" y="122.10" width="1.2" height="12.40" fill="#a000a0"/>
<ellipse cx="635.60" cy="128.30" rx="5.2" ry="4.6" fill="#c0c0c0"/>
<ellipse cx="635.60" cy="128.30" rx="2.91" ry="2.58" fill="#008a8a"/>
<rect x="452.15" y="270.25" width="12.90" height="13.70" fill="#000"/>
<rect x="453.35" y="271.45" width="10.50" height="11.30" fill="#c0c0c0"/>
<ellipse cx="458.60" cy="277.10" rx="2.73" ry="2.94" fill="#008a8a"/>
<ellipse cx="473.90" cy="277.20" rx="5.90" ry="6.50" fill="#000"/>
<rect x="467.50" y="276.60" width="12.80" height="1.2" fill="#a000a0"/>
<rect x="473.30" y="270.20" width="1.2" height="14.00" fill="#a000a0"/>
<ellipse cx="473.90" cy="277.20" rx="4.7" ry="5.3" fill="#c0c0c0"/>
<ellipse cx="473.90" cy="277.20" rx="2.63" ry="2.97" fill="#008a8a"/>
<ellipse cx="489.10" cy="277.20" rx="5.90" ry="6.50" fill="#000"/>
<rect x="482.70" y="276.60" width="12.80" height="1.2" fill="#a000a0"/>
<rect x="488.50" y="270.20" width="1.2" height="14.00" fill="#a000a0"/>
<ellipse cx="489.10" cy="277.20" rx="4.7" ry="5.3" fill="#c0c0c0"/>
<ellipse cx="489.10" cy="277.20" rx="2.63" ry="2.97" fill="#008a8a"/>
<ellipse cx="630.80" cy="220.20" rx="6.60" ry="5.40" fill="#000"/>
<rect x="623.70" y="219.60" width="14.20" height="1.2" fill="#a000a0"/>
<rect x="630.20" y="214.30" width="1.2" height="11.80" fill="#a000a0"/>
<ellipse cx="630.80" cy="220.20" rx="5.5" ry="4.3" fill="#c0c0c0"/>
<ellipse cx="630.80" cy="220.20" rx="3.08" ry="2.41" fill="#008a8a"/>
<ellipse cx="630.80" cy="235.90" rx="6.60" ry="5.40" fill="#000"/>
<rect x="623.70" y="235.30" width="14.20" height="1.2" fill="#a000a0"/>
<rect x="630.20" y="230.00" width="1.2" height="11.80" fill="#a000a0"/>
<ellipse cx="630.80" cy="235.90" rx="5.5" ry="4.3" fill="#c0c0c0"/>
<ellipse cx="630.80" cy="235.90" rx="3.08" ry="2.41" fill="#008a8a"/>
<ellipse cx="630.80" cy="251.10" rx="6.60" ry="5.40" fill="#000"/>
<rect x="623.70" y="250.50" width="14.20" height="1.2" fill="#a000a0"/>
<rect x="630.20" y="245.20" width="1.2" height="11.80" fill="#a000a0"/>
<ellipse cx="630.80" cy="251.10" rx="5.5" ry="4.3" fill="#c0c0c0"/>
<ellipse cx="630.80" cy="251.10" rx="3.08" ry="2.41" fill="#008a8a"/>
<rect x="624.05" y="260.55" width="13.50" height="10.90" fill="#000"/>
<rect x="625.25" y="261.75" width="11.10" height="8.50" fill="#c0c0c0"/>
<ellipse cx="630.80" cy="266.00" rx="2.89" ry="2.21" fill="#008a8a"/>
<ellipse cx="547.90" cy="351.50" rx="6.40" ry="6.10" fill="#000"/>
<rect x="541.00" y="350.90" width="13.80" height="1.2" fill="#a000a0"/>
<rect x="547.30" y="344.90" width="1.2" height="13.20" fill="#a000a0"/>
<ellipse cx="547.90" cy="351.50" rx="5.2" ry="4.9" fill="#c0c0c0"/>
<ellipse cx="547.90" cy="351.50" rx="2.91" ry="2.74" fill="#008a8a"/>
<rect x="541.45" y="391.05" width="12.90" height="12.90" fill="#000"/>
<rect x="542.65" y="392.25" width="10.50" height="10.50" fill="#c0c0c0"/>
<ellipse cx="547.90" cy="397.50" rx="2.73" ry="2.73" fill="#008a8a"/>
<ellipse cx="563.30" cy="351.50" rx="6.40" ry="6.10" fill="#000"/>
<rect x="556.40" y="350.90" width="13.80" height="1.2" fill="#a000a0"/>
<rect x="562.70" y="344.90" width="1.2" height="13.20" fill="#a000a0"/>
<ellipse cx="563.30" cy="351.50" rx="5.2" ry="4.9" fill="#c0c0c0"/>
<ellipse cx="563.30" cy="351.50" rx="2.91" ry="2.74" fill="#008a8a"/>
<ellipse cx="563.30" cy="397.50" rx="6.40" ry="6.10" fill="#000"/>
<rect x="556.40" y="396.90" width="13.80" height="1.2" fill="#a000a0"/>
<rect x="562.70" y="390.90" width="1.2" height="13.20" fill="#a000a0"/>
<ellipse cx="563.30" cy="397.50" rx="5.2" ry="4.9" fill="#c0c0c0"/>
<ellipse cx="563.30" cy="397.50" rx="2.91" ry="2.74" fill="#008a8a"/>
<ellipse cx="578.70" cy="351.50" rx="6.40" ry="6.10" fill="#000"/>
<rect x="571.80" y="350.90" width="13.80" height="1.2" fill="#a000a0"/>
<rect x="578.10" y="344.90" width="1.2" height="13.20" fill="#a000a0"/>
<ellipse cx="578.70" cy="351.50" rx="5.2" ry="4.9" fill="#c0c0c0"/>
<ellipse cx="578.70" cy="351.50" rx="2.91" ry="2.74" fill="#008a8a"/>
<ellipse cx="578.70" cy="397.50" rx="6.40" ry="6.10" fill="#000"/>
<rect x="571.80" y="396.90" width="13.80" height="1.2" fill="#a000a0"/>
<rect x="578.10" y="390.90" width="1.2" height="13.20" fill="#a000a0"/>
<ellipse cx="578.70" cy="397.50" rx="5.2" ry="4.9" fill="#c0c0c0"/>
<ellipse cx="578.70" cy="397.50" rx="2.91" ry="2.74" fill="#008a8a"/>
<ellipse cx="594.10" cy="351.50" rx="6.40" ry="6.10" fill="#000"/>
<rect x="587.20" y="350.90" width="13.80" height="1.2" fill="#a000a0"/>
<rect x="593.50" y="344.90" width="1.2" height="13.20" fill="#a000a0"/>
<ellipse cx="594.10" cy="351.50" rx="5.2" ry="4.9" fill="#c0c0c0"/>
<ellipse cx="594.10" cy="351.50" rx="2.91" ry="2.74" fill="#008a8a"/>
<ellipse cx="594.10" cy="397.50" rx="6.40" ry="6.10" fill="#000"/>
<rect x="587.20" y="396.90" width="13.80" height="1.2" fill="#a000a0"/>
<rect x="593.50" y="390.90" width="1.2" height="13.20" fill="#a000a0"/>
<ellipse cx="594.10" cy="397.50" rx="5.2" ry="4.9" fill="#c0c0c0"/>
<ellipse cx="594.10" cy="397.50" rx="2.91" ry="2.74" fill="#008a8a"/>
<ellipse cx="231.50" cy="439.00" rx="6.40" ry="6.10" fill="#000"/>
<rect x="224.60" y="438.40" width="13.80" height="1.2" fill="#a000a0"/>
<rect x="230.90" y="432.40" width="1.2" height="13.20" fill="#a000a0"/>
<ellipse cx="231.50" cy="439.00" rx="5.2" ry="4.9" fill="#c0c0c0"/>
<ellipse cx="231.50" cy="439.00" rx="2.91" ry="2.74" fill="#008a8a"/>
<rect x="225.05" y="478.25" width="12.90" height="12.90" fill="#000"/>
<rect x="226.25" y="479.45" width="10.50" height="10.50" fill="#c0c0c0"/>
<ellipse cx="231.50" cy="484.70" rx="2.73" ry="2.73" fill="#008a8a"/>
<ellipse cx="247.30" cy="439.00" rx="6.40" ry="6.10" fill="#000"/>
<rect x="240.40" y="438.40" width="13.80" height="1.2" fill="#a000a0"/>
<rect x="246.70" y="432.40" width="1.2" height="13.20" fill="#a000a0"/>
<ellipse cx="247.30" cy="439.00" rx="5.2" ry="4.9" fill="#c0c0c0"/>
<ellipse cx="247.30" cy="439.00" rx="2.91" ry="2.74" fill="#008a8a"/>
<ellipse cx="247.30" cy="484.70" rx="6.40" ry="6.10" fill="#000"/>
<rect x="240.40" y="484.10" width="13.80" height="1.2" fill="#a000a0"/>
<rect x="246.70" y="478.10" width="1.2" height="13.20" fill="#a000a0"/>
<ellipse cx="247.30" cy="484.70" rx="5.2" ry="4.9" fill="#c0c0c0"/>
<ellipse cx="247.30" cy="484.70" rx="2.91" ry="2.74" fill="#008a8a"/>
<ellipse cx="262.60" cy="439.00" rx="6.40" ry="6.10" fill="#000"/>
<rect x="255.70" y="438.40" width="13.80" height="1.2" fill="#a000a0"/>
<rect x="262.00" y="432.40" width="1.2" height="13.20" fill="#a000a0"/>
<ellipse cx="262.60" cy="439.00" rx="5.2" ry="4.9" fill="#c0c0c0"/>
<ellipse cx="262.60" cy="439.00" rx="2.91" ry="2.74" fill="#008a8a"/>
<ellipse cx="262.60" cy="484.70" rx="6.40" ry="6.10" fill="#000"/>
<rect x="255.70" y="484.10" width="13.80" height="1.2" fill="#a000a0"/>
<rect x="262.00" y="478.10" width="1.2" height="13.20" fill="#a000a0"/>
<ellipse cx="262.60" cy="484.70" rx="5.2" ry="4.9" fill="#c0c0c0"/>
<ellipse cx="262.60" cy="484.70" rx="2.91" ry="2.74" fill="#008a8a"/>
<ellipse cx="278.10" cy="439.00" rx="6.40" ry="6.10" fill="#000"/>
<rect x="271.20" y="438.40" width="13.80" height="1.2" fill="#a000a0"/>
<rect x="277.50" y="432.40" width="1.2" height="13.20" fill="#a000a0"/>
<ellipse cx="278.10" cy="439.00" rx="5.2" ry="4.9" fill="#c0c0c0"/>
<ellipse cx="278.10" cy="439.00" rx="2.91" ry="2.74" fill="#008a8a"/>
<ellipse cx="278.10" cy="484.70" rx="6.40" ry="6.10" fill="#000"/>
<rect x="271.20" y="484.10" width="13.80" height="1.2" fill="#a000a0"/>
<rect x="277.50" y="478.10" width="1.2" height="13.20" fill="#a000a0"/>
<ellipse cx="278.10" cy="484.70" rx="5.2" ry="4.9" fill="#c0c0c0"/>
<ellipse cx="278.10" cy="484.70" rx="2.91" ry="2.74" fill="#008a8a"/>
<rect x="125.65" y="497.70" width="11.70" height="12.40" fill="#000"/>
<rect x="126.85" y="498.90" width="9.30" height="10.00" fill="#c0c0c0"/>
<ellipse cx="131.50" cy="503.90" rx="2.42" ry="2.60" fill="#008a8a"/>
<ellipse cx="146.50" cy="503.90" rx="5.95" ry="6.45" fill="#000"/>
<rect x="140.05" y="503.30" width="12.90" height="1.2" fill="#a000a0"/>
<rect x="145.90" y="496.95" width="1.2" height="13.90" fill="#a000a0"/>
<ellipse cx="146.50" cy="503.90" rx="4.75" ry="5.25" fill="#c0c0c0"/>
<ellipse cx="146.50" cy="503.90" rx="2.66" ry="2.94" fill="#008a8a"/>
<ellipse cx="161.80" cy="503.90" rx="5.95" ry="6.45" fill="#000"/>
<rect x="155.35" y="503.30" width="12.90" height="1.2" fill="#a000a0"/>
<rect x="161.20" y="496.95" width="1.2" height="13.90" fill="#a000a0"/>
<ellipse cx="161.80" cy="503.90" rx="4.75" ry="5.25" fill="#c0c0c0"/>
<ellipse cx="161.80" cy="503.90" rx="2.66" ry="2.94" fill="#008a8a"/>
<ellipse cx="177.10" cy="503.90" rx="5.95" ry="6.45" fill="#000"/>
<rect x="170.65" y="503.30" width="12.90" height="1.2" fill="#a000a0"/>
<rect x="176.50" y="496.95" width="1.2" height="13.90" fill="#a000a0"/>
<ellipse cx="177.10" cy="503.90" rx="4.75" ry="5.25" fill="#c0c0c0"/>
<ellipse cx="177.10" cy="503.90" rx="2.66" ry="2.94" fill="#008a8a"/>
<rect x="48.90" y="482.85" width="13.00" height="10.90" fill="#000"/>
<rect x="50.10" y="484.05" width="10.60" height="8.50" fill="#c0c0c0"/>
<ellipse cx="55.40" cy="488.30" rx="2.76" ry="2.21" fill="#008a8a"/>
<ellipse cx="55.60" cy="504.10" rx="6.35" ry="5.40" fill="#000"/>
<rect x="48.75" y="503.50" width="13.70" height="1.2" fill="#a000a0"/>
<rect x="55.00" y="498.20" width="1.2" height="11.80" fill="#a000a0"/>
<ellipse cx="55.60" cy="504.10" rx="5.25" ry="4.3" fill="#c0c0c0"/>
<ellipse cx="55.60" cy="504.10" rx="2.94" ry="2.41" fill="#008a8a"/>
<ellipse cx="55.60" cy="519.40" rx="6.35" ry="5.40" fill="#000"/>
<rect x="48.75" y="518.80" width="13.70" height="1.2" fill="#a000a0"/>
<rect x="55.00" y="513.50" width="1.2" height="11.80" fill="#a000a0"/>
<ellipse cx="55.60" cy="519.40" rx="5.25" ry="4.3" fill="#c0c0c0"/>
<ellipse cx="55.60" cy="519.40" rx="2.94" ry="2.41" fill="#008a8a"/>
<rect x="93.75" y="602.90" width="11.50" height="11.40" fill="#000"/>
<rect x="94.95" y="604.10" width="9.10" height="9.00" fill="#c0c0c0"/>
<ellipse cx="99.50" cy="608.60" rx="2.37" ry="2.34" fill="#008a8a"/>
<ellipse cx="114.70" cy="608.60" rx="5.70" ry="5.50" fill="#000"/>
<rect x="108.50" y="608.00" width="12.40" height="1.2" fill="#a000a0"/>
<rect x="114.10" y="602.60" width="1.2" height="12.00" fill="#a000a0"/>
<ellipse cx="114.70" cy="608.60" rx="4.6" ry="4.4" fill="#c0c0c0"/>
<ellipse cx="114.70" cy="608.60" rx="2.58" ry="2.46" fill="#008a8a"/>
<ellipse cx="129.80" cy="608.60" rx="5.70" ry="5.50" fill="#000"/>
<rect x="123.60" y="608.00" width="12.40" height="1.2" fill="#a000a0"/>
<rect x="129.20" y="602.60" width="1.2" height="12.00" fill="#a000a0"/>
<ellipse cx="129.80" cy="608.60" rx="4.6" ry="4.4" fill="#c0c0c0"/>
<ellipse cx="129.80" cy="608.60" rx="2.58" ry="2.46" fill="#008a8a"/>
<ellipse cx="145.40" cy="608.60" rx="5.70" ry="5.50" fill="#000"/>
<rect x="139.20" y="608.00" width="12.40" height="1.2" fill="#a000a0"/>
<rect x="144.80" y="602.60" width="1.2" height="12.00" fill="#a000a0"/>
<ellipse cx="145.40" cy="608.60" rx="4.6" ry="4.4" fill="#c0c0c0"/>
<ellipse cx="145.40" cy="608.60" rx="2.58" ry="2.46" fill="#008a8a"/>
<ellipse cx="630.80" cy="525.80" rx="6.40" ry="5.60" fill="#000"/>
<rect x="623.90" y="525.20" width="13.80" height="1.2" fill="#a000a0"/>
<rect x="630.20" y="519.70" width="1.2" height="12.20" fill="#a000a0"/>
<ellipse cx="630.80" cy="525.80" rx="5.3" ry="4.5" fill="#c0c0c0"/>
<ellipse cx="630.80" cy="525.80" rx="2.97" ry="2.52" fill="#008a8a"/>
<ellipse cx="630.80" cy="540.90" rx="6.40" ry="5.60" fill="#000"/>
<rect x="623.90" y="540.30" width="13.80" height="1.2" fill="#a000a0"/>
<rect x="630.20" y="534.80" width="1.2" height="12.20" fill="#a000a0"/>
<ellipse cx="630.80" cy="540.90" rx="5.3" ry="4.5" fill="#c0c0c0"/>
<ellipse cx="630.80" cy="540.90" rx="2.97" ry="2.52" fill="#008a8a"/>
<ellipse cx="630.80" cy="556.10" rx="6.40" ry="5.60" fill="#000"/>
<rect x="623.90" y="555.50" width="13.80" height="1.2" fill="#a000a0"/>
<rect x="630.20" y="550.00" width="1.2" height="12.20" fill="#a000a0"/>
<ellipse cx="630.80" cy="556.10" rx="5.3" ry="4.5" fill="#c0c0c0"/>
<ellipse cx="630.80" cy="556.10" rx="2.97" ry="2.52" fill="#008a8a"/>
<rect x="625.00" y="565.80" width="12.20" height="11.00" fill="#000"/>
<rect x="626.20" y="567.00" width="9.80" height="8.60" fill="#c0c0c0"/>
<ellipse cx="631.10" cy="571.30" rx="2.55" ry="2.24" fill="#008a8a"/>
<ellipse cx="370.30" cy="582.00" rx="6.20" ry="6.00" fill="#000"/>
<rect x="363.60" y="581.40" width="13.40" height="1.2" fill="#a000a0"/>
<rect x="369.70" y="575.50" width="1.2" height="13.00" fill="#a000a0"/>
<ellipse cx="370.30" cy="582.00" rx="5" ry="4.8" fill="#c0c0c0"/>
<ellipse cx="370.30" cy="582.00" rx="2.80" ry="2.69" fill="#008a8a"/>
<ellipse cx="411.70" cy="582.00" rx="6.20" ry="6.00" fill="#000"/>
<rect x="405.00" y="581.40" width="13.40" height="1.2" fill="#a000a0"/>
<rect x="411.10" y="575.50" width="1.2" height="13.00" fill="#a000a0"/>
<ellipse cx="411.70" cy="582.00" rx="5" ry="4.8" fill="#c0c0c0"/>
<ellipse cx="411.70" cy="582.00" rx="2.80" ry="2.69" fill="#008a8a"/>
<ellipse cx="370.30" cy="608.70" rx="6.20" ry="6.00" fill="#000"/>
<rect x="363.60" y="608.10" width="13.40" height="1.2" fill="#a000a0"/>
<rect x="369.70" y="602.20" width="1.2" height="13.00" fill="#a000a0"/>
<ellipse cx="370.30" cy="608.70" rx="5" ry="4.8" fill="#c0c0c0"/>
<ellipse cx="370.30" cy="608.70" rx="2.80" ry="2.69" fill="#008a8a"/>
<rect x="405.05" y="602.90" width="12.90" height="12.00" fill="#000"/>
<rect x="406.25" y="604.10" width="10.50" height="9.60" fill="#c0c0c0"/>
<ellipse cx="411.50" cy="608.90" rx="2.73" ry="2.50" fill="#008a8a"/>
<ellipse cx="444.10" cy="582.00" rx="6.20" ry="6.00" fill="#000"/>
<rect x="437.40" y="581.40" width="13.40" height="1.2" fill="#a000a0"/>
<rect x="443.50" y="575.50" width="1.2" height="13.00" fill="#a000a0"/>
<ellipse cx="444.10" cy="582.00" rx="5" ry="4.8" fill="#c0c0c0"/>
<ellipse cx="444.10" cy="582.00" rx="2.80" ry="2.69" fill="#008a8a"/>
<ellipse cx="485.50" cy="582.00" rx="6.20" ry="6.00" fill="#000"/>
<rect x="478.80" y="581.40" width="13.40" height="1.2" fill="#a000a0"/>
<rect x="484.90" y="575.50" width="1.2" height="13.00" fill="#a000a0"/>
<ellipse cx="485.50" cy="582.00" rx="5" ry="4.8" fill="#c0c0c0"/>
<ellipse cx="485.50" cy="582.00" rx="2.80" ry="2.69" fill="#008a8a"/>
<ellipse cx="444.10" cy="608.70" rx="6.20" ry="6.00" fill="#000"/>
<rect x="437.40" y="608.10" width="13.40" height="1.2" fill="#a000a0"/>
<rect x="443.50" y="602.20" width="1.2" height="13.00" fill="#a000a0"/>
<ellipse cx="444.10" cy="608.70" rx="5" ry="4.8" fill="#c0c0c0"/>
<ellipse cx="444.10" cy="608.70" rx="2.80" ry="2.69" fill="#008a8a"/>
<rect x="478.85" y="602.90" width="12.90" height="12.00" fill="#000"/>
<rect x="480.05" y="604.10" width="10.50" height="9.60" fill="#c0c0c0"/>
<ellipse cx="485.30" cy="608.90" rx="2.73" ry="2.50" fill="#008a8a"/>
<ellipse cx="517.90" cy="582.00" rx="6.20" ry="6.00" fill="#000"/>
<rect x="511.20" y="581.40" width="13.40" height="1.2" fill="#a000a0"/>
<rect x="517.30" y="575.50" width="1.2" height="13.00" fill="#a000a0"/>
<ellipse cx="517.90" cy="582.00" rx="5" ry="4.8" fill="#c0c0c0"/>
<ellipse cx="517.90" cy="582.00" rx="2.80" ry="2.69" fill="#008a8a"/>
<ellipse cx="559.30" cy="582.00" rx="6.20" ry="6.00" fill="#000"/>
<rect x="552.60" y="581.40" width="13.40" height="1.2" fill="#a000a0"/>
<rect x="558.70" y="575.50" width="1.2" height="13.00" fill="#a000a0"/>
<ellipse cx="559.30" cy="582.00" rx="5" ry="4.8" fill="#c0c0c0"/>
<ellipse cx="559.30" cy="582.00" rx="2.80" ry="2.69" fill="#008a8a"/>
<ellipse cx="517.90" cy="608.70" rx="6.20" ry="6.00" fill="#000"/>
<rect x="511.20" y="608.10" width="13.40" height="1.2" fill="#a000a0"/>
<rect x="517.30" y="602.20" width="1.2" height="13.00" fill="#a000a0"/>
<ellipse cx="517.90" cy="608.70" rx="5" ry="4.8" fill="#c0c0c0"/>
<ellipse cx="517.90" cy="608.70" rx="2.80" ry="2.69" fill="#008a8a"/>
<rect x="552.65" y="602.90" width="12.90" height="12.00" fill="#000"/>
<rect x="553.85" y="604.10" width="10.50" height="9.60" fill="#c0c0c0"/>
<ellipse cx="559.10" cy="608.90" rx="2.73" ry="2.50" fill="#008a8a"/>
</svg>
</body></html>
